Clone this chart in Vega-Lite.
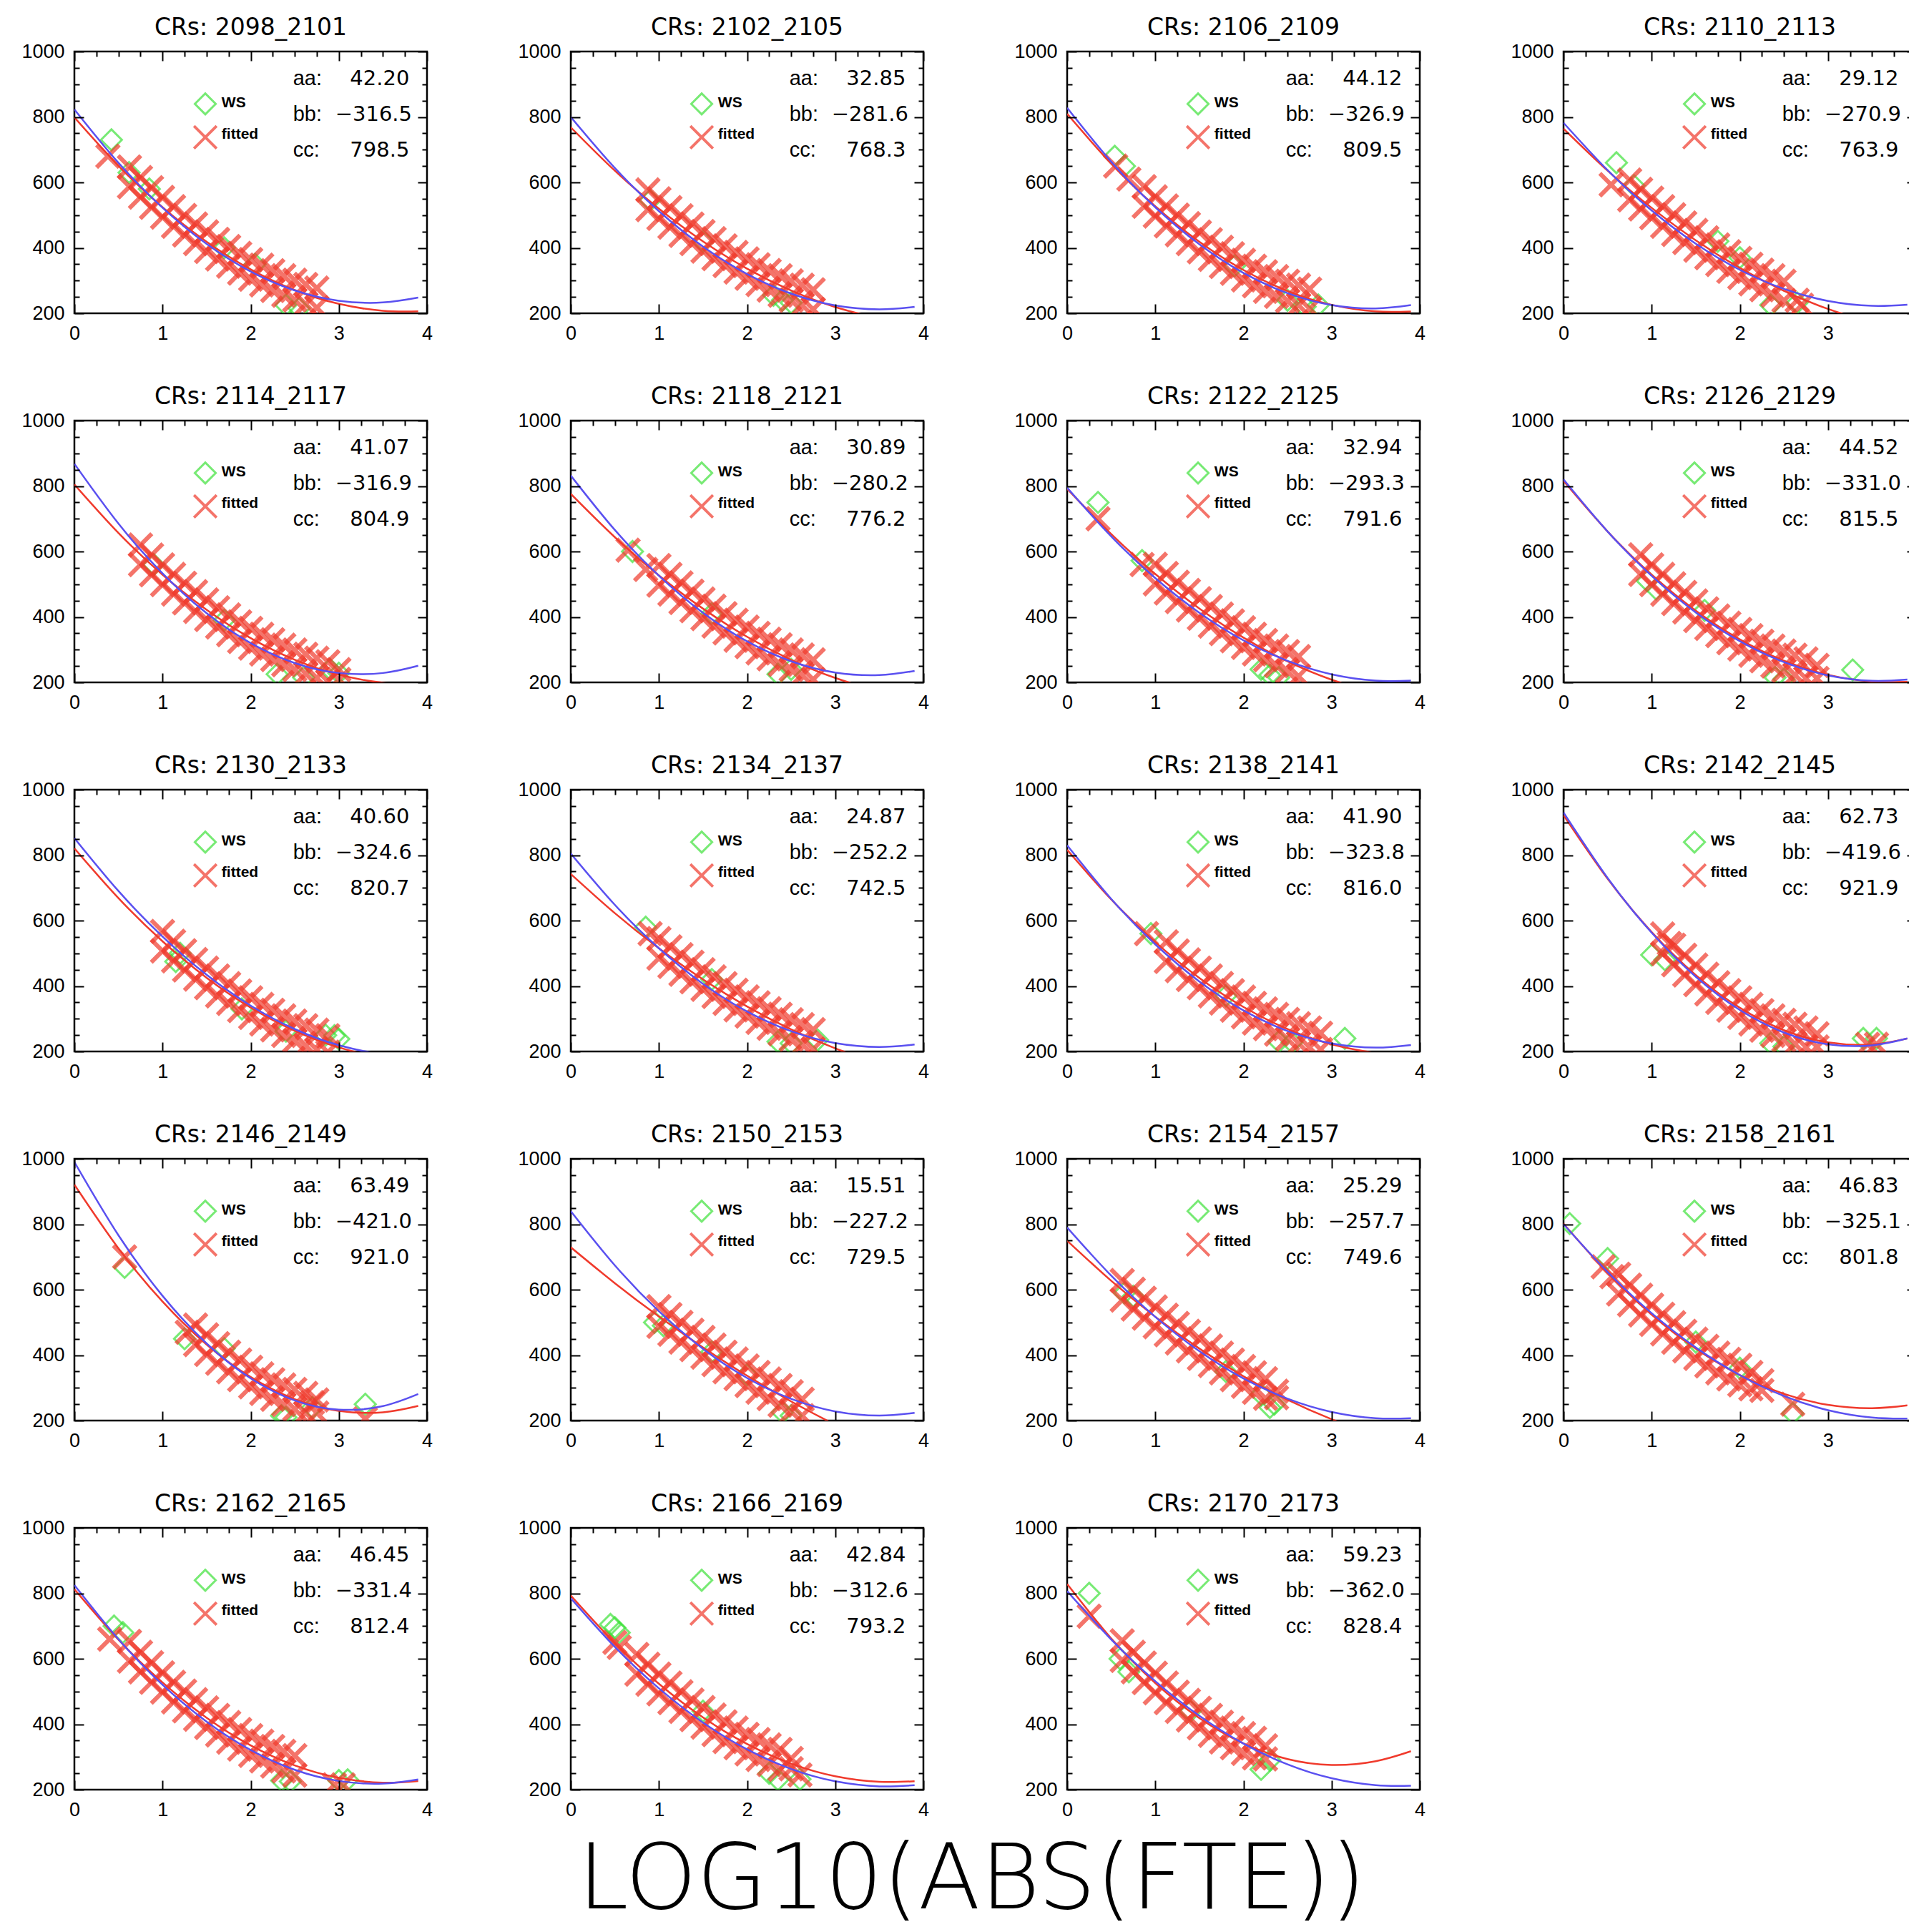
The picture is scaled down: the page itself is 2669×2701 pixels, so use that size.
{
"$schema":"https://vega.github.io/schema/vega-lite/v6.json",
"padding":{"left":5,"top":21,"right":0,"bottom":0},
"background":"white",
"title":{"text":"LOG10(ABS(FTE))","orient":"bottom","anchor":"middle","font":"DejaVu Sans","fontWeight":200,"fontSize":127,"color":"black","offset":24,"dx":12},
"data":{"values":[
{"p":"CRs: 2098_2101","aa":42.2,"bb":-316.5,"cc":798.5},
{"p":"CRs: 2098_2101","t":"r","x":0,"y":798.5},{"p":"CRs: 2098_2101","t":"r","x":0.5,"y":650.8},{"p":"CRs: 2098_2101","t":"r","x":1,"y":524.2},{"p":"CRs: 2098_2101","t":"r","x":1.5,"y":418.7},{"p":"CRs: 2098_2101","t":"r","x":2,"y":334.3},{"p":"CRs: 2098_2101","t":"r","x":2.5,"y":271},{"p":"CRs: 2098_2101","t":"r","x":3,"y":228.8},{"p":"CRs: 2098_2101","t":"r","x":3.5,"y":207.7},{"p":"CRs: 2098_2101","t":"r","x":3.9,"y":206},
{"p":"CRs: 2098_2101","t":"b","x":0,"y":823},{"p":"CRs: 2098_2101","t":"b","x":0.5,"y":659.7},{"p":"CRs: 2098_2101","t":"b","x":1,"y":522.7},{"p":"CRs: 2098_2101","t":"b","x":1.5,"y":412.1},{"p":"CRs: 2098_2101","t":"b","x":2,"y":327.8},{"p":"CRs: 2098_2101","t":"b","x":2.5,"y":269.9},{"p":"CRs: 2098_2101","t":"b","x":3,"y":238.3},{"p":"CRs: 2098_2101","t":"b","x":3.5,"y":233.1},{"p":"CRs: 2098_2101","t":"b","x":3.9,"y":247.9},
{"p":"CRs: 2098_2101","t":"x","x":0.38,"y":680},{"p":"CRs: 2098_2101","t":"x","x":0.625,"y":647},{"p":"CRs: 2098_2101","t":"x","x":0.75,"y":555},{"p":"CRs: 2098_2101","t":"x","x":0.875,"y":584},{"p":"CRs: 2098_2101","t":"x","x":1,"y":494},{"p":"CRs: 2098_2101","t":"x","x":1.125,"y":526},{"p":"CRs: 2098_2101","t":"x","x":1.25,"y":439},{"p":"CRs: 2098_2101","t":"x","x":1.375,"y":473},{"p":"CRs: 2098_2101","t":"x","x":1.5,"y":389},{"p":"CRs: 2098_2101","t":"x","x":1.625,"y":426},{"p":"CRs: 2098_2101","t":"x","x":1.75,"y":344},{"p":"CRs: 2098_2101","t":"x","x":1.875,"y":383},{"p":"CRs: 2098_2101","t":"x","x":2,"y":304},{"p":"CRs: 2098_2101","t":"x","x":2.125,"y":347},{"p":"CRs: 2098_2101","t":"x","x":2.25,"y":270},{"p":"CRs: 2098_2101","t":"x","x":2.375,"y":315},{"p":"CRs: 2098_2101","t":"x","x":2.5,"y":241},{"p":"CRs: 2098_2101","t":"x","x":2.625,"y":288},{"p":"CRs: 2098_2101","t":"x","x":2.75,"y":217},
{"p":"CRs: 2098_2101","t":"x","x":0.625,"y":587},{"p":"CRs: 2098_2101","t":"x","x":0.75,"y":615},{"p":"CRs: 2098_2101","t":"x","x":0.875,"y":524},{"p":"CRs: 2098_2101","t":"x","x":1,"y":554},{"p":"CRs: 2098_2101","t":"x","x":1.125,"y":466},{"p":"CRs: 2098_2101","t":"x","x":1.25,"y":499},{"p":"CRs: 2098_2101","t":"x","x":1.375,"y":413},{"p":"CRs: 2098_2101","t":"x","x":1.5,"y":449},{"p":"CRs: 2098_2101","t":"x","x":1.625,"y":366},{"p":"CRs: 2098_2101","t":"x","x":1.75,"y":404},{"p":"CRs: 2098_2101","t":"x","x":1.875,"y":323},{"p":"CRs: 2098_2101","t":"x","x":2,"y":364},{"p":"CRs: 2098_2101","t":"x","x":2.125,"y":287},{"p":"CRs: 2098_2101","t":"x","x":2.25,"y":330},{"p":"CRs: 2098_2101","t":"x","x":2.375,"y":255},{"p":"CRs: 2098_2101","t":"x","x":2.5,"y":301},{"p":"CRs: 2098_2101","t":"x","x":2.625,"y":228},{"p":"CRs: 2098_2101","t":"x","x":2.75,"y":277},
{"p":"CRs: 2098_2101","t":"g","x":0.42,"y":730},{"p":"CRs: 2098_2101","t":"g","x":0.62,"y":630},{"p":"CRs: 2098_2101","t":"g","x":0.85,"y":580},{"p":"CRs: 2098_2101","t":"g","x":1.7,"y":400},{"p":"CRs: 2098_2101","t":"g","x":2.05,"y":350},{"p":"CRs: 2098_2101","t":"g","x":2.4,"y":225},{"p":"CRs: 2098_2101","t":"g","x":2.55,"y":215},
{"p":"CRs: 2102_2105","aa":32.85,"bb":-281.6,"cc":768.3},
{"p":"CRs: 2102_2105","t":"r","x":0,"y":768.3},{"p":"CRs: 2102_2105","t":"r","x":0.5,"y":635.7},{"p":"CRs: 2102_2105","t":"r","x":1,"y":519.6},{"p":"CRs: 2102_2105","t":"r","x":1.5,"y":419.8},{"p":"CRs: 2102_2105","t":"r","x":2,"y":336.5},{"p":"CRs: 2102_2105","t":"r","x":2.5,"y":269.6},{"p":"CRs: 2102_2105","t":"r","x":3,"y":219.2},{"p":"CRs: 2102_2105","t":"r","x":3.5,"y":185.1},{"p":"CRs: 2102_2105","t":"r","x":3.9,"y":169.7},
{"p":"CRs: 2102_2105","t":"b","x":0,"y":800},{"p":"CRs: 2102_2105","t":"b","x":0.5,"y":644},{"p":"CRs: 2102_2105","t":"b","x":1,"y":512},{"p":"CRs: 2102_2105","t":"b","x":1.5,"y":404},{"p":"CRs: 2102_2105","t":"b","x":2,"y":320},{"p":"CRs: 2102_2105","t":"b","x":2.5,"y":260},{"p":"CRs: 2102_2105","t":"b","x":3,"y":224},{"p":"CRs: 2102_2105","t":"b","x":3.5,"y":212},{"p":"CRs: 2102_2105","t":"b","x":3.9,"y":219.7},
{"p":"CRs: 2102_2105","t":"x","x":0.875,"y":577},{"p":"CRs: 2102_2105","t":"x","x":1,"y":490},{"p":"CRs: 2102_2105","t":"x","x":1.125,"y":523},{"p":"CRs: 2102_2105","t":"x","x":1.25,"y":438},{"p":"CRs: 2102_2105","t":"x","x":1.375,"y":473},{"p":"CRs: 2102_2105","t":"x","x":1.5,"y":390},{"p":"CRs: 2102_2105","t":"x","x":1.625,"y":428},{"p":"CRs: 2102_2105","t":"x","x":1.75,"y":346},{"p":"CRs: 2102_2105","t":"x","x":1.875,"y":386},{"p":"CRs: 2102_2105","t":"x","x":2,"y":307},{"p":"CRs: 2102_2105","t":"x","x":2.125,"y":348},{"p":"CRs: 2102_2105","t":"x","x":2.25,"y":271},{"p":"CRs: 2102_2105","t":"x","x":2.375,"y":315},{"p":"CRs: 2102_2105","t":"x","x":2.5,"y":240},{"p":"CRs: 2102_2105","t":"x","x":2.625,"y":286},{"p":"CRs: 2102_2105","t":"x","x":2.75,"y":212},
{"p":"CRs: 2102_2105","t":"x","x":0.875,"y":517},{"p":"CRs: 2102_2105","t":"x","x":1,"y":550},{"p":"CRs: 2102_2105","t":"x","x":1.125,"y":463},{"p":"CRs: 2102_2105","t":"x","x":1.25,"y":498},{"p":"CRs: 2102_2105","t":"x","x":1.375,"y":413},{"p":"CRs: 2102_2105","t":"x","x":1.5,"y":450},{"p":"CRs: 2102_2105","t":"x","x":1.625,"y":367},{"p":"CRs: 2102_2105","t":"x","x":1.75,"y":406},{"p":"CRs: 2102_2105","t":"x","x":1.875,"y":326},{"p":"CRs: 2102_2105","t":"x","x":2,"y":366},{"p":"CRs: 2102_2105","t":"x","x":2.125,"y":288},{"p":"CRs: 2102_2105","t":"x","x":2.25,"y":331},{"p":"CRs: 2102_2105","t":"x","x":2.375,"y":255},{"p":"CRs: 2102_2105","t":"x","x":2.5,"y":299},{"p":"CRs: 2102_2105","t":"x","x":2.625,"y":225},{"p":"CRs: 2102_2105","t":"x","x":2.75,"y":272},
{"p":"CRs: 2102_2105","t":"g","x":0.9,"y":545},{"p":"CRs: 2102_2105","t":"g","x":1.5,"y":420},{"p":"CRs: 2102_2105","t":"g","x":2.3,"y":255},{"p":"CRs: 2102_2105","t":"g","x":2.4,"y":240},{"p":"CRs: 2102_2105","t":"g","x":2.5,"y":232},
{"p":"CRs: 2106_2109","aa":44.12,"bb":-326.9,"cc":809.5},
{"p":"CRs: 2106_2109","t":"r","x":0,"y":809.5},{"p":"CRs: 2106_2109","t":"r","x":0.5,"y":657.1},{"p":"CRs: 2106_2109","t":"r","x":1,"y":526.7},{"p":"CRs: 2106_2109","t":"r","x":1.5,"y":418.4},{"p":"CRs: 2106_2109","t":"r","x":2,"y":332.2},{"p":"CRs: 2106_2109","t":"r","x":2.5,"y":268},{"p":"CRs: 2106_2109","t":"r","x":3,"y":225.9},{"p":"CRs: 2106_2109","t":"r","x":3.5,"y":205.8},{"p":"CRs: 2106_2109","t":"r","x":3.9,"y":205.7},
{"p":"CRs: 2106_2109","t":"b","x":0,"y":828},{"p":"CRs: 2106_2109","t":"b","x":0.5,"y":663.2},{"p":"CRs: 2106_2109","t":"b","x":1,"y":524.1},{"p":"CRs: 2106_2109","t":"b","x":1.5,"y":410.8},{"p":"CRs: 2106_2109","t":"b","x":2,"y":323.2},{"p":"CRs: 2106_2109","t":"b","x":2.5,"y":261.4},{"p":"CRs: 2106_2109","t":"b","x":3,"y":225.3},{"p":"CRs: 2106_2109","t":"b","x":3.5,"y":215},{"p":"CRs: 2106_2109","t":"b","x":3.9,"y":225.2},
{"p":"CRs: 2106_2109","t":"x","x":0.55,"y":650},{"p":"CRs: 2106_2109","t":"x","x":0.7,"y":610},{"p":"CRs: 2106_2109","t":"x","x":0.875,"y":587},{"p":"CRs: 2106_2109","t":"x","x":1,"y":497},{"p":"CRs: 2106_2109","t":"x","x":1.125,"y":528},{"p":"CRs: 2106_2109","t":"x","x":1.25,"y":440},{"p":"CRs: 2106_2109","t":"x","x":1.375,"y":474},{"p":"CRs: 2106_2109","t":"x","x":1.5,"y":388},{"p":"CRs: 2106_2109","t":"x","x":1.625,"y":425},{"p":"CRs: 2106_2109","t":"x","x":1.75,"y":343},{"p":"CRs: 2106_2109","t":"x","x":1.875,"y":382},{"p":"CRs: 2106_2109","t":"x","x":2,"y":302},{"p":"CRs: 2106_2109","t":"x","x":2.125,"y":344},{"p":"CRs: 2106_2109","t":"x","x":2.25,"y":267},{"p":"CRs: 2106_2109","t":"x","x":2.375,"y":312},{"p":"CRs: 2106_2109","t":"x","x":2.5,"y":238},{"p":"CRs: 2106_2109","t":"x","x":2.625,"y":286},{"p":"CRs: 2106_2109","t":"x","x":2.75,"y":214},
{"p":"CRs: 2106_2109","t":"x","x":0.875,"y":527},{"p":"CRs: 2106_2109","t":"x","x":1,"y":556},{"p":"CRs: 2106_2109","t":"x","x":1.125,"y":467},{"p":"CRs: 2106_2109","t":"x","x":1.25,"y":500},{"p":"CRs: 2106_2109","t":"x","x":1.375,"y":413},{"p":"CRs: 2106_2109","t":"x","x":1.5,"y":448},{"p":"CRs: 2106_2109","t":"x","x":1.625,"y":365},{"p":"CRs: 2106_2109","t":"x","x":1.75,"y":402},{"p":"CRs: 2106_2109","t":"x","x":1.875,"y":322},{"p":"CRs: 2106_2109","t":"x","x":2,"y":362},{"p":"CRs: 2106_2109","t":"x","x":2.125,"y":284},{"p":"CRs: 2106_2109","t":"x","x":2.25,"y":327},{"p":"CRs: 2106_2109","t":"x","x":2.375,"y":252},{"p":"CRs: 2106_2109","t":"x","x":2.5,"y":298},{"p":"CRs: 2106_2109","t":"x","x":2.625,"y":225},{"p":"CRs: 2106_2109","t":"x","x":2.75,"y":274},
{"p":"CRs: 2106_2109","t":"g","x":0.54,"y":680},{"p":"CRs: 2106_2109","t":"g","x":0.65,"y":650},{"p":"CRs: 2106_2109","t":"g","x":1.9,"y":345},{"p":"CRs: 2106_2109","t":"g","x":2.5,"y":240},{"p":"CRs: 2106_2109","t":"g","x":2.7,"y":220},{"p":"CRs: 2106_2109","t":"g","x":2.85,"y":225},
{"p":"CRs: 2110_2113","aa":29.12,"bb":-270.9,"cc":763.9},
{"p":"CRs: 2110_2113","t":"r","x":0,"y":763.9},{"p":"CRs: 2110_2113","t":"r","x":0.5,"y":635.7},{"p":"CRs: 2110_2113","t":"r","x":1,"y":522.1},{"p":"CRs: 2110_2113","t":"r","x":1.5,"y":423.1},{"p":"CRs: 2110_2113","t":"r","x":2,"y":338.6},{"p":"CRs: 2110_2113","t":"r","x":2.5,"y":268.7},{"p":"CRs: 2110_2113","t":"r","x":3,"y":213.3},{"p":"CRs: 2110_2113","t":"r","x":3.5,"y":172.5},{"p":"CRs: 2110_2113","t":"r","x":3.9,"y":150.3},
{"p":"CRs: 2110_2113","t":"b","x":0,"y":782},{"p":"CRs: 2110_2113","t":"b","x":0.5,"y":637.3},{"p":"CRs: 2110_2113","t":"b","x":1,"y":514.2},{"p":"CRs: 2110_2113","t":"b","x":1.5,"y":412.7},{"p":"CRs: 2110_2113","t":"b","x":2,"y":332.8},{"p":"CRs: 2110_2113","t":"b","x":2.5,"y":274.5},{"p":"CRs: 2110_2113","t":"b","x":3,"y":237.8},{"p":"CRs: 2110_2113","t":"b","x":3.5,"y":222.7},{"p":"CRs: 2110_2113","t":"b","x":3.9,"y":226.2},
{"p":"CRs: 2110_2113","t":"x","x":0.54,"y":593},{"p":"CRs: 2110_2113","t":"x","x":0.75,"y":547},{"p":"CRs: 2110_2113","t":"x","x":0.875,"y":579},{"p":"CRs: 2110_2113","t":"x","x":1,"y":492},{"p":"CRs: 2110_2113","t":"x","x":1.125,"y":526},{"p":"CRs: 2110_2113","t":"x","x":1.25,"y":441},{"p":"CRs: 2110_2113","t":"x","x":1.375,"y":476},{"p":"CRs: 2110_2113","t":"x","x":1.5,"y":393},{"p":"CRs: 2110_2113","t":"x","x":1.625,"y":431},{"p":"CRs: 2110_2113","t":"x","x":1.75,"y":349},{"p":"CRs: 2110_2113","t":"x","x":1.875,"y":388},{"p":"CRs: 2110_2113","t":"x","x":2,"y":309},{"p":"CRs: 2110_2113","t":"x","x":2.125,"y":350},{"p":"CRs: 2110_2113","t":"x","x":2.25,"y":272},{"p":"CRs: 2110_2113","t":"x","x":2.375,"y":315},{"p":"CRs: 2110_2113","t":"x","x":2.5,"y":239},{"p":"CRs: 2110_2113","t":"x","x":2.65,"y":240},{"p":"CRs: 2110_2113","t":"x","x":2.7,"y":225},
{"p":"CRs: 2110_2113","t":"x","x":0.75,"y":607},{"p":"CRs: 2110_2113","t":"x","x":0.875,"y":519},{"p":"CRs: 2110_2113","t":"x","x":1,"y":552},{"p":"CRs: 2110_2113","t":"x","x":1.125,"y":466},{"p":"CRs: 2110_2113","t":"x","x":1.25,"y":501},{"p":"CRs: 2110_2113","t":"x","x":1.375,"y":416},{"p":"CRs: 2110_2113","t":"x","x":1.5,"y":453},{"p":"CRs: 2110_2113","t":"x","x":1.625,"y":370},{"p":"CRs: 2110_2113","t":"x","x":1.75,"y":409},{"p":"CRs: 2110_2113","t":"x","x":1.875,"y":328},{"p":"CRs: 2110_2113","t":"x","x":2,"y":368},{"p":"CRs: 2110_2113","t":"x","x":2.125,"y":290},{"p":"CRs: 2110_2113","t":"x","x":2.25,"y":332},{"p":"CRs: 2110_2113","t":"x","x":2.375,"y":255},{"p":"CRs: 2110_2113","t":"x","x":2.5,"y":298},
{"p":"CRs: 2110_2113","t":"g","x":0.6,"y":660},{"p":"CRs: 2110_2113","t":"g","x":0.8,"y":590},{"p":"CRs: 2110_2113","t":"g","x":1.75,"y":420},{"p":"CRs: 2110_2113","t":"g","x":2,"y":370},{"p":"CRs: 2110_2113","t":"g","x":2.35,"y":225},{"p":"CRs: 2110_2113","t":"g","x":2.65,"y":232},
{"p":"CRs: 2114_2117","aa":41.07,"bb":-316.9,"cc":804.9},
{"p":"CRs: 2114_2117","t":"r","x":0,"y":804.9},{"p":"CRs: 2114_2117","t":"r","x":0.5,"y":656.7},{"p":"CRs: 2114_2117","t":"r","x":1,"y":529.1},{"p":"CRs: 2114_2117","t":"r","x":1.5,"y":422},{"p":"CRs: 2114_2117","t":"r","x":2,"y":335.4},{"p":"CRs: 2114_2117","t":"r","x":2.5,"y":269.3},{"p":"CRs: 2114_2117","t":"r","x":3,"y":223.8},{"p":"CRs: 2114_2117","t":"r","x":3.5,"y":198.9},{"p":"CRs: 2114_2117","t":"r","x":3.9,"y":193.7},
{"p":"CRs: 2114_2117","t":"b","x":0,"y":868},{"p":"CRs: 2114_2117","t":"b","x":0.5,"y":685.3},{"p":"CRs: 2114_2117","t":"b","x":1,"y":533.1},{"p":"CRs: 2114_2117","t":"b","x":1.5,"y":411.3},{"p":"CRs: 2114_2117","t":"b","x":2,"y":320},{"p":"CRs: 2114_2117","t":"b","x":2.5,"y":259.1},{"p":"CRs: 2114_2117","t":"b","x":3,"y":228.7},{"p":"CRs: 2114_2117","t":"b","x":3.5,"y":228.7},{"p":"CRs: 2114_2117","t":"b","x":3.9,"y":250.7},
{"p":"CRs: 2114_2117","t":"x","x":0.75,"y":620},{"p":"CRs: 2114_2117","t":"x","x":0.875,"y":529},{"p":"CRs: 2114_2117","t":"x","x":1,"y":559},{"p":"CRs: 2114_2117","t":"x","x":1.125,"y":470},{"p":"CRs: 2114_2117","t":"x","x":1.25,"y":503},{"p":"CRs: 2114_2117","t":"x","x":1.375,"y":417},{"p":"CRs: 2114_2117","t":"x","x":1.5,"y":452},{"p":"CRs: 2114_2117","t":"x","x":1.625,"y":369},{"p":"CRs: 2114_2117","t":"x","x":1.75,"y":406},{"p":"CRs: 2114_2117","t":"x","x":1.875,"y":325},{"p":"CRs: 2114_2117","t":"x","x":2,"y":365},{"p":"CRs: 2114_2117","t":"x","x":2.125,"y":287},{"p":"CRs: 2114_2117","t":"x","x":2.25,"y":330},{"p":"CRs: 2114_2117","t":"x","x":2.375,"y":254},{"p":"CRs: 2114_2117","t":"x","x":2.5,"y":299},{"p":"CRs: 2114_2117","t":"x","x":2.625,"y":226},{"p":"CRs: 2114_2117","t":"x","x":2.75,"y":274},{"p":"CRs: 2114_2117","t":"x","x":2.875,"y":203},{"p":"CRs: 2114_2117","t":"x","x":3,"y":239},
{"p":"CRs: 2114_2117","t":"x","x":0.75,"y":560},{"p":"CRs: 2114_2117","t":"x","x":0.875,"y":589},{"p":"CRs: 2114_2117","t":"x","x":1,"y":499},{"p":"CRs: 2114_2117","t":"x","x":1.125,"y":530},{"p":"CRs: 2114_2117","t":"x","x":1.25,"y":443},{"p":"CRs: 2114_2117","t":"x","x":1.375,"y":477},{"p":"CRs: 2114_2117","t":"x","x":1.5,"y":392},{"p":"CRs: 2114_2117","t":"x","x":1.625,"y":428},{"p":"CRs: 2114_2117","t":"x","x":1.75,"y":346},{"p":"CRs: 2114_2117","t":"x","x":1.875,"y":385},{"p":"CRs: 2114_2117","t":"x","x":2,"y":305},{"p":"CRs: 2114_2117","t":"x","x":2.125,"y":347},{"p":"CRs: 2114_2117","t":"x","x":2.25,"y":270},{"p":"CRs: 2114_2117","t":"x","x":2.375,"y":314},{"p":"CRs: 2114_2117","t":"x","x":2.5,"y":239},{"p":"CRs: 2114_2117","t":"x","x":2.625,"y":286},{"p":"CRs: 2114_2117","t":"x","x":2.75,"y":214},{"p":"CRs: 2114_2117","t":"x","x":2.875,"y":263},{"p":"CRs: 2114_2117","t":"x","x":3,"y":209},
{"p":"CRs: 2114_2117","t":"g","x":0.9,"y":560},{"p":"CRs: 2114_2117","t":"g","x":1.7,"y":390},{"p":"CRs: 2114_2117","t":"g","x":2.3,"y":225},{"p":"CRs: 2114_2117","t":"g","x":2.6,"y":215},{"p":"CRs: 2114_2117","t":"g","x":2.9,"y":240},{"p":"CRs: 2114_2117","t":"g","x":3,"y":228},
{"p":"CRs: 2118_2121","aa":30.89,"bb":-280.2,"cc":776.2},
{"p":"CRs: 2118_2121","t":"r","x":0,"y":776.2},{"p":"CRs: 2118_2121","t":"r","x":0.5,"y":643.8},{"p":"CRs: 2118_2121","t":"r","x":1,"y":526.9},{"p":"CRs: 2118_2121","t":"r","x":1.5,"y":425.4},{"p":"CRs: 2118_2121","t":"r","x":2,"y":339.4},{"p":"CRs: 2118_2121","t":"r","x":2.5,"y":268.8},{"p":"CRs: 2118_2121","t":"r","x":3,"y":213.6},{"p":"CRs: 2118_2121","t":"r","x":3.5,"y":173.9},{"p":"CRs: 2118_2121","t":"r","x":3.9,"y":153.2},
{"p":"CRs: 2118_2121","t":"b","x":0,"y":832},{"p":"CRs: 2118_2121","t":"b","x":0.5,"y":665.7},{"p":"CRs: 2118_2121","t":"b","x":1,"y":525.8},{"p":"CRs: 2118_2121","t":"b","x":1.5,"y":412.3},{"p":"CRs: 2118_2121","t":"b","x":2,"y":325.2},{"p":"CRs: 2118_2121","t":"b","x":2.5,"y":264.5},{"p":"CRs: 2118_2121","t":"b","x":3,"y":230.2},{"p":"CRs: 2118_2121","t":"b","x":3.5,"y":222.3},{"p":"CRs: 2118_2121","t":"b","x":3.9,"y":235},
{"p":"CRs: 2118_2121","t":"x","x":0.65,"y":604},{"p":"CRs: 2118_2121","t":"x","x":0.85,"y":545},{"p":"CRs: 2118_2121","t":"x","x":1,"y":497},{"p":"CRs: 2118_2121","t":"x","x":1.125,"y":530},{"p":"CRs: 2118_2121","t":"x","x":1.25,"y":444},{"p":"CRs: 2118_2121","t":"x","x":1.375,"y":479},{"p":"CRs: 2118_2121","t":"x","x":1.5,"y":395},{"p":"CRs: 2118_2121","t":"x","x":1.625,"y":433},{"p":"CRs: 2118_2121","t":"x","x":1.75,"y":351},{"p":"CRs: 2118_2121","t":"x","x":1.875,"y":390},{"p":"CRs: 2118_2121","t":"x","x":2,"y":309},{"p":"CRs: 2118_2121","t":"x","x":2.125,"y":350},{"p":"CRs: 2118_2121","t":"x","x":2.25,"y":272},{"p":"CRs: 2118_2121","t":"x","x":2.375,"y":315},{"p":"CRs: 2118_2121","t":"x","x":2.5,"y":239},{"p":"CRs: 2118_2121","t":"x","x":2.625,"y":284},{"p":"CRs: 2118_2121","t":"x","x":2.75,"y":209},
{"p":"CRs: 2118_2121","t":"x","x":1,"y":557},{"p":"CRs: 2118_2121","t":"x","x":1.125,"y":470},{"p":"CRs: 2118_2121","t":"x","x":1.25,"y":504},{"p":"CRs: 2118_2121","t":"x","x":1.375,"y":419},{"p":"CRs: 2118_2121","t":"x","x":1.5,"y":455},{"p":"CRs: 2118_2121","t":"x","x":1.625,"y":372},{"p":"CRs: 2118_2121","t":"x","x":1.75,"y":410},{"p":"CRs: 2118_2121","t":"x","x":1.875,"y":329},{"p":"CRs: 2118_2121","t":"x","x":2,"y":369},{"p":"CRs: 2118_2121","t":"x","x":2.125,"y":290},{"p":"CRs: 2118_2121","t":"x","x":2.25,"y":332},{"p":"CRs: 2118_2121","t":"x","x":2.375,"y":255},{"p":"CRs: 2118_2121","t":"x","x":2.5,"y":299},{"p":"CRs: 2118_2121","t":"x","x":2.625,"y":223},{"p":"CRs: 2118_2121","t":"x","x":2.75,"y":269},
{"p":"CRs: 2118_2121","t":"g","x":0.7,"y":600},{"p":"CRs: 2118_2121","t":"g","x":1.6,"y":410},{"p":"CRs: 2118_2121","t":"g","x":2.35,"y":225},{"p":"CRs: 2118_2121","t":"g","x":2.5,"y":240},
{"p":"CRs: 2122_2125","aa":32.94,"bb":-293.3,"cc":791.6},
{"p":"CRs: 2122_2125","t":"r","x":0,"y":791.6},{"p":"CRs: 2122_2125","t":"r","x":0.5,"y":653.2},{"p":"CRs: 2122_2125","t":"r","x":1,"y":531.2},{"p":"CRs: 2122_2125","t":"r","x":1.5,"y":425.8},{"p":"CRs: 2122_2125","t":"r","x":2,"y":336.8},{"p":"CRs: 2122_2125","t":"r","x":2.5,"y":264.2},{"p":"CRs: 2122_2125","t":"r","x":3,"y":208.2},{"p":"CRs: 2122_2125","t":"r","x":3.5,"y":168.6},{"p":"CRs: 2122_2125","t":"r","x":3.9,"y":148.7},
{"p":"CRs: 2122_2125","t":"b","x":0,"y":795},{"p":"CRs: 2122_2125","t":"b","x":0.5,"y":646},{"p":"CRs: 2122_2125","t":"b","x":1,"y":518.5},{"p":"CRs: 2122_2125","t":"b","x":1.5,"y":412.7},{"p":"CRs: 2122_2125","t":"b","x":2,"y":328.4},{"p":"CRs: 2122_2125","t":"b","x":2.5,"y":265.8},{"p":"CRs: 2122_2125","t":"b","x":3,"y":224.7},{"p":"CRs: 2122_2125","t":"b","x":3.5,"y":205.3},{"p":"CRs: 2122_2125","t":"b","x":3.9,"y":205.3},
{"p":"CRs: 2122_2125","t":"x","x":0.35,"y":700},{"p":"CRs: 2122_2125","t":"x","x":0.85,"y":560},{"p":"CRs: 2122_2125","t":"x","x":1,"y":501},{"p":"CRs: 2122_2125","t":"x","x":1.125,"y":533},{"p":"CRs: 2122_2125","t":"x","x":1.25,"y":447},{"p":"CRs: 2122_2125","t":"x","x":1.375,"y":481},{"p":"CRs: 2122_2125","t":"x","x":1.5,"y":396},{"p":"CRs: 2122_2125","t":"x","x":1.625,"y":432},{"p":"CRs: 2122_2125","t":"x","x":1.75,"y":349},{"p":"CRs: 2122_2125","t":"x","x":1.875,"y":388},{"p":"CRs: 2122_2125","t":"x","x":2,"y":307},{"p":"CRs: 2122_2125","t":"x","x":2.125,"y":347},{"p":"CRs: 2122_2125","t":"x","x":2.25,"y":269},{"p":"CRs: 2122_2125","t":"x","x":2.375,"y":311},{"p":"CRs: 2122_2125","t":"x","x":2.5,"y":234},{"p":"CRs: 2122_2125","t":"x","x":2.625,"y":279},
{"p":"CRs: 2122_2125","t":"x","x":1,"y":561},{"p":"CRs: 2122_2125","t":"x","x":1.125,"y":473},{"p":"CRs: 2122_2125","t":"x","x":1.25,"y":506},{"p":"CRs: 2122_2125","t":"x","x":1.375,"y":421},{"p":"CRs: 2122_2125","t":"x","x":1.5,"y":456},{"p":"CRs: 2122_2125","t":"x","x":1.625,"y":372},{"p":"CRs: 2122_2125","t":"x","x":1.75,"y":409},{"p":"CRs: 2122_2125","t":"x","x":1.875,"y":327},{"p":"CRs: 2122_2125","t":"x","x":2,"y":367},{"p":"CRs: 2122_2125","t":"x","x":2.125,"y":287},{"p":"CRs: 2122_2125","t":"x","x":2.25,"y":328},{"p":"CRs: 2122_2125","t":"x","x":2.375,"y":251},{"p":"CRs: 2122_2125","t":"x","x":2.5,"y":294},{"p":"CRs: 2122_2125","t":"x","x":2.625,"y":219},
{"p":"CRs: 2122_2125","t":"g","x":0.35,"y":750},{"p":"CRs: 2122_2125","t":"g","x":0.85,"y":572},{"p":"CRs: 2122_2125","t":"g","x":2.2,"y":240},{"p":"CRs: 2122_2125","t":"g","x":2.3,"y":222},{"p":"CRs: 2122_2125","t":"g","x":2.4,"y":215},
{"p":"CRs: 2126_2129","aa":44.52,"bb":-331.0,"cc":815.5},
{"p":"CRs: 2126_2129","t":"r","x":0,"y":815.5},{"p":"CRs: 2126_2129","t":"r","x":0.5,"y":661.1},{"p":"CRs: 2126_2129","t":"r","x":1,"y":529},{"p":"CRs: 2126_2129","t":"r","x":1.5,"y":419.2},{"p":"CRs: 2126_2129","t":"r","x":2,"y":331.6},{"p":"CRs: 2126_2129","t":"r","x":2.5,"y":266.3},{"p":"CRs: 2126_2129","t":"r","x":3,"y":223.2},{"p":"CRs: 2126_2129","t":"r","x":3.5,"y":202.4},{"p":"CRs: 2126_2129","t":"r","x":3.9,"y":201.8},
{"p":"CRs: 2126_2129","t":"b","x":0,"y":820},{"p":"CRs: 2126_2129","t":"b","x":0.5,"y":660.9},{"p":"CRs: 2126_2129","t":"b","x":1,"y":525.5},{"p":"CRs: 2126_2129","t":"b","x":1.5,"y":413.9},{"p":"CRs: 2126_2129","t":"b","x":2,"y":326},{"p":"CRs: 2126_2129","t":"b","x":2.5,"y":261.9},{"p":"CRs: 2126_2129","t":"b","x":3,"y":221.5},{"p":"CRs: 2126_2129","t":"b","x":3.5,"y":204.9},{"p":"CRs: 2126_2129","t":"b","x":3.9,"y":208.7},
{"p":"CRs: 2126_2129","t":"x","x":0.875,"y":590},{"p":"CRs: 2126_2129","t":"x","x":1,"y":499},{"p":"CRs: 2126_2129","t":"x","x":1.125,"y":530},{"p":"CRs: 2126_2129","t":"x","x":1.25,"y":441},{"p":"CRs: 2126_2129","t":"x","x":1.375,"y":475},{"p":"CRs: 2126_2129","t":"x","x":1.5,"y":389},{"p":"CRs: 2126_2129","t":"x","x":1.625,"y":425},{"p":"CRs: 2126_2129","t":"x","x":1.75,"y":343},{"p":"CRs: 2126_2129","t":"x","x":1.875,"y":381},{"p":"CRs: 2126_2129","t":"x","x":2,"y":302},{"p":"CRs: 2126_2129","t":"x","x":2.125,"y":343},{"p":"CRs: 2126_2129","t":"x","x":2.25,"y":266},{"p":"CRs: 2126_2129","t":"x","x":2.375,"y":311},{"p":"CRs: 2126_2129","t":"x","x":2.5,"y":236},{"p":"CRs: 2126_2129","t":"x","x":2.625,"y":283},{"p":"CRs: 2126_2129","t":"x","x":2.75,"y":212},{"p":"CRs: 2126_2129","t":"x","x":2.875,"y":252},
{"p":"CRs: 2126_2129","t":"x","x":0.875,"y":530},{"p":"CRs: 2126_2129","t":"x","x":1,"y":559},{"p":"CRs: 2126_2129","t":"x","x":1.125,"y":469},{"p":"CRs: 2126_2129","t":"x","x":1.25,"y":501},{"p":"CRs: 2126_2129","t":"x","x":1.375,"y":415},{"p":"CRs: 2126_2129","t":"x","x":1.5,"y":449},{"p":"CRs: 2126_2129","t":"x","x":1.625,"y":365},{"p":"CRs: 2126_2129","t":"x","x":1.75,"y":403},{"p":"CRs: 2126_2129","t":"x","x":1.875,"y":321},{"p":"CRs: 2126_2129","t":"x","x":2,"y":362},{"p":"CRs: 2126_2129","t":"x","x":2.125,"y":283},{"p":"CRs: 2126_2129","t":"x","x":2.25,"y":326},{"p":"CRs: 2126_2129","t":"x","x":2.375,"y":250},{"p":"CRs: 2126_2129","t":"x","x":2.5,"y":296},{"p":"CRs: 2126_2129","t":"x","x":2.625,"y":223},{"p":"CRs: 2126_2129","t":"x","x":2.75,"y":272},{"p":"CRs: 2126_2129","t":"x","x":2.875,"y":212},
{"p":"CRs: 2126_2129","t":"g","x":0.95,"y":510},{"p":"CRs: 2126_2129","t":"g","x":1.05,"y":485},{"p":"CRs: 2126_2129","t":"g","x":1.6,"y":420},{"p":"CRs: 2126_2129","t":"g","x":2.4,"y":215},{"p":"CRs: 2126_2129","t":"g","x":2.5,"y":210},{"p":"CRs: 2126_2129","t":"g","x":3.28,"y":238},
{"p":"CRs: 2130_2133","aa":40.6,"bb":-324.6,"cc":820.7},
{"p":"CRs: 2130_2133","t":"r","x":0,"y":820.7},{"p":"CRs: 2130_2133","t":"r","x":0.5,"y":668.6},{"p":"CRs: 2130_2133","t":"r","x":1,"y":536.7},{"p":"CRs: 2130_2133","t":"r","x":1.5,"y":425.2},{"p":"CRs: 2130_2133","t":"r","x":2,"y":333.9},{"p":"CRs: 2130_2133","t":"r","x":2.5,"y":263},{"p":"CRs: 2130_2133","t":"r","x":3,"y":212.3},{"p":"CRs: 2130_2133","t":"r","x":3.5,"y":181.9},{"p":"CRs: 2130_2133","t":"r","x":3.9,"y":172.3},
{"p":"CRs: 2130_2133","t":"b","x":0,"y":852},{"p":"CRs: 2130_2133","t":"b","x":0.5,"y":690.3},{"p":"CRs: 2130_2133","t":"b","x":1,"y":551},{"p":"CRs: 2130_2133","t":"b","x":1.5,"y":434.3},{"p":"CRs: 2130_2133","t":"b","x":2,"y":340},{"p":"CRs: 2130_2133","t":"b","x":2.5,"y":268.3},{"p":"CRs: 2130_2133","t":"b","x":3,"y":219},{"p":"CRs: 2130_2133","t":"b","x":3.5,"y":192.3},{"p":"CRs: 2130_2133","t":"b","x":3.9,"y":187.1},
{"p":"CRs: 2130_2133","t":"x","x":1,"y":507},{"p":"CRs: 2130_2133","t":"x","x":1.125,"y":537},{"p":"CRs: 2130_2133","t":"x","x":1.25,"y":449},{"p":"CRs: 2130_2133","t":"x","x":1.375,"y":481},{"p":"CRs: 2130_2133","t":"x","x":1.5,"y":395},{"p":"CRs: 2130_2133","t":"x","x":1.625,"y":431},{"p":"CRs: 2130_2133","t":"x","x":1.75,"y":347},{"p":"CRs: 2130_2133","t":"x","x":1.875,"y":385},{"p":"CRs: 2130_2133","t":"x","x":2,"y":304},{"p":"CRs: 2130_2133","t":"x","x":2.125,"y":344},{"p":"CRs: 2130_2133","t":"x","x":2.25,"y":266},{"p":"CRs: 2130_2133","t":"x","x":2.375,"y":309},{"p":"CRs: 2130_2133","t":"x","x":2.5,"y":233},{"p":"CRs: 2130_2133","t":"x","x":2.625,"y":279},{"p":"CRs: 2130_2133","t":"x","x":2.75,"y":205},{"p":"CRs: 2130_2133","t":"x","x":2.875,"y":248},
{"p":"CRs: 2130_2133","t":"x","x":1,"y":567},{"p":"CRs: 2130_2133","t":"x","x":1.125,"y":477},{"p":"CRs: 2130_2133","t":"x","x":1.25,"y":508},{"p":"CRs: 2130_2133","t":"x","x":1.375,"y":421},{"p":"CRs: 2130_2133","t":"x","x":1.5,"y":455},{"p":"CRs: 2130_2133","t":"x","x":1.625,"y":370},{"p":"CRs: 2130_2133","t":"x","x":1.75,"y":407},{"p":"CRs: 2130_2133","t":"x","x":1.875,"y":325},{"p":"CRs: 2130_2133","t":"x","x":2,"y":364},{"p":"CRs: 2130_2133","t":"x","x":2.125,"y":284},{"p":"CRs: 2130_2133","t":"x","x":2.25,"y":326},{"p":"CRs: 2130_2133","t":"x","x":2.375,"y":249},{"p":"CRs: 2130_2133","t":"x","x":2.5,"y":293},{"p":"CRs: 2130_2133","t":"x","x":2.625,"y":218},{"p":"CRs: 2130_2133","t":"x","x":2.75,"y":265},{"p":"CRs: 2130_2133","t":"x","x":2.875,"y":198},
{"p":"CRs: 2130_2133","t":"g","x":1.15,"y":475},{"p":"CRs: 2130_2133","t":"g","x":1.2,"y":500},{"p":"CRs: 2130_2133","t":"g","x":1.9,"y":330},{"p":"CRs: 2130_2133","t":"g","x":2.4,"y":262},{"p":"CRs: 2130_2133","t":"g","x":2.85,"y":250},{"p":"CRs: 2130_2133","t":"g","x":2.95,"y":248},{"p":"CRs: 2130_2133","t":"g","x":3,"y":238},
{"p":"CRs: 2134_2137","aa":24.87,"bb":-252.2,"cc":742.5},
{"p":"CRs: 2134_2137","t":"r","x":0,"y":742.5},{"p":"CRs: 2134_2137","t":"r","x":0.5,"y":622.6},{"p":"CRs: 2134_2137","t":"r","x":1,"y":515.2},{"p":"CRs: 2134_2137","t":"r","x":1.5,"y":420.2},{"p":"CRs: 2134_2137","t":"r","x":2,"y":337.6},{"p":"CRs: 2134_2137","t":"r","x":2.5,"y":267.4},{"p":"CRs: 2134_2137","t":"r","x":3,"y":209.7},{"p":"CRs: 2134_2137","t":"r","x":3.5,"y":164.5},{"p":"CRs: 2134_2137","t":"r","x":3.9,"y":137.2},
{"p":"CRs: 2134_2137","t":"b","x":0,"y":805},{"p":"CRs: 2134_2137","t":"b","x":0.5,"y":648.1},{"p":"CRs: 2134_2137","t":"b","x":1,"y":515.3},{"p":"CRs: 2134_2137","t":"b","x":1.5,"y":406.7},{"p":"CRs: 2134_2137","t":"b","x":2,"y":322.2},{"p":"CRs: 2134_2137","t":"b","x":2.5,"y":261.9},{"p":"CRs: 2134_2137","t":"b","x":3,"y":225.7},{"p":"CRs: 2134_2137","t":"b","x":3.5,"y":213.7},{"p":"CRs: 2134_2137","t":"b","x":3.9,"y":221.4},
{"p":"CRs: 2134_2137","t":"x","x":0.9,"y":560},{"p":"CRs: 2134_2137","t":"x","x":1,"y":485},{"p":"CRs: 2134_2137","t":"x","x":1.125,"y":520},{"p":"CRs: 2134_2137","t":"x","x":1.25,"y":436},{"p":"CRs: 2134_2137","t":"x","x":1.375,"y":473},{"p":"CRs: 2134_2137","t":"x","x":1.5,"y":390},{"p":"CRs: 2134_2137","t":"x","x":1.625,"y":428},{"p":"CRs: 2134_2137","t":"x","x":1.75,"y":347},{"p":"CRs: 2134_2137","t":"x","x":1.875,"y":387},{"p":"CRs: 2134_2137","t":"x","x":2,"y":308},{"p":"CRs: 2134_2137","t":"x","x":2.125,"y":349},{"p":"CRs: 2134_2137","t":"x","x":2.25,"y":271},{"p":"CRs: 2134_2137","t":"x","x":2.375,"y":314},{"p":"CRs: 2134_2137","t":"x","x":2.5,"y":237},{"p":"CRs: 2134_2137","t":"x","x":2.625,"y":282},{"p":"CRs: 2134_2137","t":"x","x":2.75,"y":207},
{"p":"CRs: 2134_2137","t":"x","x":1,"y":545},{"p":"CRs: 2134_2137","t":"x","x":1.125,"y":460},{"p":"CRs: 2134_2137","t":"x","x":1.25,"y":496},{"p":"CRs: 2134_2137","t":"x","x":1.375,"y":413},{"p":"CRs: 2134_2137","t":"x","x":1.5,"y":450},{"p":"CRs: 2134_2137","t":"x","x":1.625,"y":368},{"p":"CRs: 2134_2137","t":"x","x":1.75,"y":407},{"p":"CRs: 2134_2137","t":"x","x":1.875,"y":327},{"p":"CRs: 2134_2137","t":"x","x":2,"y":367},{"p":"CRs: 2134_2137","t":"x","x":2.125,"y":289},{"p":"CRs: 2134_2137","t":"x","x":2.25,"y":331},{"p":"CRs: 2134_2137","t":"x","x":2.375,"y":254},{"p":"CRs: 2134_2137","t":"x","x":2.5,"y":297},{"p":"CRs: 2134_2137","t":"x","x":2.625,"y":222},{"p":"CRs: 2134_2137","t":"x","x":2.75,"y":267},
{"p":"CRs: 2134_2137","t":"g","x":0.85,"y":580},{"p":"CRs: 2134_2137","t":"g","x":1.6,"y":420},{"p":"CRs: 2134_2137","t":"g","x":2.35,"y":230},{"p":"CRs: 2134_2137","t":"g","x":2.5,"y":225},{"p":"CRs: 2134_2137","t":"g","x":2.8,"y":235},
{"p":"CRs: 2138_2141","aa":41.9,"bb":-323.8,"cc":816.0},
{"p":"CRs: 2138_2141","t":"r","x":0,"y":816},{"p":"CRs: 2138_2141","t":"r","x":0.5,"y":664.6},{"p":"CRs: 2138_2141","t":"r","x":1,"y":534.1},{"p":"CRs: 2138_2141","t":"r","x":1.5,"y":424.6},{"p":"CRs: 2138_2141","t":"r","x":2,"y":336},{"p":"CRs: 2138_2141","t":"r","x":2.5,"y":268.4},{"p":"CRs: 2138_2141","t":"r","x":3,"y":221.7},{"p":"CRs: 2138_2141","t":"r","x":3.5,"y":196},{"p":"CRs: 2138_2141","t":"r","x":3.9,"y":190.5},
{"p":"CRs: 2138_2141","t":"b","x":0,"y":830},{"p":"CRs: 2138_2141","t":"b","x":0.5,"y":666.1},{"p":"CRs: 2138_2141","t":"b","x":1,"y":527.4},{"p":"CRs: 2138_2141","t":"b","x":1.5,"y":413.9},{"p":"CRs: 2138_2141","t":"b","x":2,"y":325.6},{"p":"CRs: 2138_2141","t":"b","x":2.5,"y":262.5},{"p":"CRs: 2138_2141","t":"b","x":3,"y":224.6},{"p":"CRs: 2138_2141","t":"b","x":3.5,"y":211.9},{"p":"CRs: 2138_2141","t":"b","x":3.9,"y":219.9},
{"p":"CRs: 2138_2141","t":"x","x":0.9,"y":560},{"p":"CRs: 2138_2141","t":"x","x":1.125,"y":535},{"p":"CRs: 2138_2141","t":"x","x":1.25,"y":447},{"p":"CRs: 2138_2141","t":"x","x":1.375,"y":480},{"p":"CRs: 2138_2141","t":"x","x":1.5,"y":395},{"p":"CRs: 2138_2141","t":"x","x":1.625,"y":431},{"p":"CRs: 2138_2141","t":"x","x":1.75,"y":348},{"p":"CRs: 2138_2141","t":"x","x":1.875,"y":386},{"p":"CRs: 2138_2141","t":"x","x":2,"y":306},{"p":"CRs: 2138_2141","t":"x","x":2.125,"y":347},{"p":"CRs: 2138_2141","t":"x","x":2.25,"y":270},{"p":"CRs: 2138_2141","t":"x","x":2.375,"y":313},{"p":"CRs: 2138_2141","t":"x","x":2.5,"y":238},{"p":"CRs: 2138_2141","t":"x","x":2.625,"y":285},{"p":"CRs: 2138_2141","t":"x","x":2.75,"y":212},{"p":"CRs: 2138_2141","t":"x","x":2.875,"y":256},
{"p":"CRs: 2138_2141","t":"x","x":1.125,"y":475},{"p":"CRs: 2138_2141","t":"x","x":1.25,"y":507},{"p":"CRs: 2138_2141","t":"x","x":1.375,"y":420},{"p":"CRs: 2138_2141","t":"x","x":1.5,"y":455},{"p":"CRs: 2138_2141","t":"x","x":1.625,"y":370},{"p":"CRs: 2138_2141","t":"x","x":1.75,"y":408},{"p":"CRs: 2138_2141","t":"x","x":1.875,"y":326},{"p":"CRs: 2138_2141","t":"x","x":2,"y":366},{"p":"CRs: 2138_2141","t":"x","x":2.125,"y":287},{"p":"CRs: 2138_2141","t":"x","x":2.25,"y":330},{"p":"CRs: 2138_2141","t":"x","x":2.375,"y":253},{"p":"CRs: 2138_2141","t":"x","x":2.5,"y":298},{"p":"CRs: 2138_2141","t":"x","x":2.625,"y":225},{"p":"CRs: 2138_2141","t":"x","x":2.75,"y":272},{"p":"CRs: 2138_2141","t":"x","x":2.875,"y":206},
{"p":"CRs: 2138_2141","t":"g","x":0.95,"y":560},{"p":"CRs: 2138_2141","t":"g","x":1.8,"y":370},{"p":"CRs: 2138_2141","t":"g","x":2.4,"y":230},{"p":"CRs: 2138_2141","t":"g","x":2.55,"y":228},{"p":"CRs: 2138_2141","t":"g","x":3.15,"y":240},
{"p":"CRs: 2142_2145","aa":62.73,"bb":-419.6,"cc":921.9},
{"p":"CRs: 2142_2145","t":"r","x":0,"y":921.9},{"p":"CRs: 2142_2145","t":"r","x":0.5,"y":727.8},{"p":"CRs: 2142_2145","t":"r","x":1,"y":565},{"p":"CRs: 2142_2145","t":"r","x":1.5,"y":433.6},{"p":"CRs: 2142_2145","t":"r","x":2,"y":333.6},{"p":"CRs: 2142_2145","t":"r","x":2.5,"y":265},{"p":"CRs: 2142_2145","t":"r","x":3,"y":227.7},{"p":"CRs: 2142_2145","t":"r","x":3.5,"y":221.7},{"p":"CRs: 2142_2145","t":"r","x":3.9,"y":239.6},
{"p":"CRs: 2142_2145","t":"b","x":0,"y":930},{"p":"CRs: 2142_2145","t":"b","x":0.5,"y":730},{"p":"CRs: 2142_2145","t":"b","x":1,"y":562.8},{"p":"CRs: 2142_2145","t":"b","x":1.5,"y":428.4},{"p":"CRs: 2142_2145","t":"b","x":2,"y":326.8},{"p":"CRs: 2142_2145","t":"b","x":2.5,"y":258},{"p":"CRs: 2142_2145","t":"b","x":3,"y":222},{"p":"CRs: 2142_2145","t":"b","x":3.5,"y":218.8},{"p":"CRs: 2142_2145","t":"b","x":3.9,"y":239.9},
{"p":"CRs: 2142_2145","t":"x","x":1.125,"y":559},{"p":"CRs: 2142_2145","t":"x","x":1.2,"y":530},{"p":"CRs: 2142_2145","t":"x","x":1.25,"y":465},{"p":"CRs: 2142_2145","t":"x","x":1.375,"y":494},{"p":"CRs: 2142_2145","t":"x","x":1.5,"y":404},{"p":"CRs: 2142_2145","t":"x","x":1.625,"y":436},{"p":"CRs: 2142_2145","t":"x","x":1.75,"y":350},{"p":"CRs: 2142_2145","t":"x","x":1.875,"y":386},{"p":"CRs: 2142_2145","t":"x","x":2,"y":304},{"p":"CRs: 2142_2145","t":"x","x":2.125,"y":344},{"p":"CRs: 2142_2145","t":"x","x":2.25,"y":265},{"p":"CRs: 2142_2145","t":"x","x":2.375,"y":309},{"p":"CRs: 2142_2145","t":"x","x":2.5,"y":235},{"p":"CRs: 2142_2145","t":"x","x":2.625,"y":283},{"p":"CRs: 2142_2145","t":"x","x":2.75,"y":213},{"p":"CRs: 2142_2145","t":"x","x":2.875,"y":254},{"p":"CRs: 2142_2145","t":"x","x":3.45,"y":222},{"p":"CRs: 2142_2145","t":"x","x":3.55,"y":222},
{"p":"CRs: 2142_2145","t":"x","x":1.125,"y":499},{"p":"CRs: 2142_2145","t":"x","x":1.25,"y":525},{"p":"CRs: 2142_2145","t":"x","x":1.375,"y":434},{"p":"CRs: 2142_2145","t":"x","x":1.5,"y":464},{"p":"CRs: 2142_2145","t":"x","x":1.625,"y":376},{"p":"CRs: 2142_2145","t":"x","x":1.75,"y":410},{"p":"CRs: 2142_2145","t":"x","x":1.875,"y":326},{"p":"CRs: 2142_2145","t":"x","x":2,"y":364},{"p":"CRs: 2142_2145","t":"x","x":2.125,"y":284},{"p":"CRs: 2142_2145","t":"x","x":2.25,"y":325},{"p":"CRs: 2142_2145","t":"x","x":2.375,"y":249},{"p":"CRs: 2142_2145","t":"x","x":2.5,"y":295},{"p":"CRs: 2142_2145","t":"x","x":2.625,"y":223},{"p":"CRs: 2142_2145","t":"x","x":2.75,"y":272},{"p":"CRs: 2142_2145","t":"x","x":2.875,"y":214},
{"p":"CRs: 2142_2145","t":"g","x":1,"y":495},{"p":"CRs: 2142_2145","t":"g","x":1.15,"y":480},{"p":"CRs: 2142_2145","t":"g","x":2.35,"y":225},{"p":"CRs: 2142_2145","t":"g","x":2.5,"y":215},{"p":"CRs: 2142_2145","t":"g","x":3.4,"y":240},{"p":"CRs: 2142_2145","t":"g","x":3.55,"y":240},
{"p":"CRs: 2146_2149","aa":63.49,"bb":-421.0,"cc":921.0},
{"p":"CRs: 2146_2149","t":"r","x":0,"y":921},{"p":"CRs: 2146_2149","t":"r","x":0.5,"y":726.4},{"p":"CRs: 2146_2149","t":"r","x":1,"y":563.5},{"p":"CRs: 2146_2149","t":"r","x":1.5,"y":432.4},{"p":"CRs: 2146_2149","t":"r","x":2,"y":333},{"p":"CRs: 2146_2149","t":"r","x":2.5,"y":265.3},{"p":"CRs: 2146_2149","t":"r","x":3,"y":229.4},{"p":"CRs: 2146_2149","t":"r","x":3.5,"y":225.3},{"p":"CRs: 2146_2149","t":"r","x":3.9,"y":244.8},
{"p":"CRs: 2146_2149","t":"b","x":0,"y":990},{"p":"CRs: 2146_2149","t":"b","x":0.5,"y":766},{"p":"CRs: 2146_2149","t":"b","x":1,"y":581.2},{"p":"CRs: 2146_2149","t":"b","x":1.5,"y":435.5},{"p":"CRs: 2146_2149","t":"b","x":2,"y":329},{"p":"CRs: 2146_2149","t":"b","x":2.5,"y":261.6},{"p":"CRs: 2146_2149","t":"b","x":3,"y":233.4},{"p":"CRs: 2146_2149","t":"b","x":3.5,"y":244.3},{"p":"CRs: 2146_2149","t":"b","x":3.9,"y":281.2},
{"p":"CRs: 2146_2149","t":"x","x":0.57,"y":700},{"p":"CRs: 2146_2149","t":"x","x":1.28,"y":470},{"p":"CRs: 2146_2149","t":"x","x":1.375,"y":492},{"p":"CRs: 2146_2149","t":"x","x":1.5,"y":402},{"p":"CRs: 2146_2149","t":"x","x":1.625,"y":435},{"p":"CRs: 2146_2149","t":"x","x":1.75,"y":349},{"p":"CRs: 2146_2149","t":"x","x":1.875,"y":385},{"p":"CRs: 2146_2149","t":"x","x":2,"y":303},{"p":"CRs: 2146_2149","t":"x","x":2.125,"y":343},{"p":"CRs: 2146_2149","t":"x","x":2.25,"y":265},{"p":"CRs: 2146_2149","t":"x","x":2.375,"y":309},{"p":"CRs: 2146_2149","t":"x","x":2.5,"y":235},{"p":"CRs: 2146_2149","t":"x","x":2.625,"y":283},{"p":"CRs: 2146_2149","t":"x","x":2.7,"y":255},{"p":"CRs: 2146_2149","t":"x","x":2.75,"y":223},{"p":"CRs: 2146_2149","t":"x","x":3.3,"y":205},
{"p":"CRs: 2146_2149","t":"x","x":1.375,"y":432},{"p":"CRs: 2146_2149","t":"x","x":1.5,"y":462},{"p":"CRs: 2146_2149","t":"x","x":1.625,"y":375},{"p":"CRs: 2146_2149","t":"x","x":1.75,"y":409},{"p":"CRs: 2146_2149","t":"x","x":1.875,"y":325},{"p":"CRs: 2146_2149","t":"x","x":2,"y":363},{"p":"CRs: 2146_2149","t":"x","x":2.125,"y":283},{"p":"CRs: 2146_2149","t":"x","x":2.25,"y":325},{"p":"CRs: 2146_2149","t":"x","x":2.375,"y":249},{"p":"CRs: 2146_2149","t":"x","x":2.5,"y":295},{"p":"CRs: 2146_2149","t":"x","x":2.625,"y":223},{"p":"CRs: 2146_2149","t":"x","x":2.75,"y":263},
{"p":"CRs: 2146_2149","t":"g","x":0.57,"y":668},{"p":"CRs: 2146_2149","t":"g","x":1.25,"y":450},{"p":"CRs: 2146_2149","t":"g","x":1.7,"y":420},{"p":"CRs: 2146_2149","t":"g","x":2.35,"y":215},{"p":"CRs: 2146_2149","t":"g","x":2.4,"y":210},{"p":"CRs: 2146_2149","t":"g","x":2.7,"y":240},{"p":"CRs: 2146_2149","t":"g","x":3.3,"y":250},
{"p":"CRs: 2150_2153","aa":15.51,"bb":-227.2,"cc":729.5},
{"p":"CRs: 2150_2153","t":"r","x":0,"y":729.5},{"p":"CRs: 2150_2153","t":"r","x":0.5,"y":619.8},{"p":"CRs: 2150_2153","t":"r","x":1,"y":517.8},{"p":"CRs: 2150_2153","t":"r","x":1.5,"y":423.6},{"p":"CRs: 2150_2153","t":"r","x":2,"y":337.1},{"p":"CRs: 2150_2153","t":"r","x":2.5,"y":258.4},{"p":"CRs: 2150_2153","t":"r","x":3,"y":187.5},{"p":"CRs: 2150_2153","t":"r","x":3.5,"y":124.3},{"p":"CRs: 2150_2153","t":"r","x":3.9,"y":79.3},
{"p":"CRs: 2150_2153","t":"b","x":0,"y":840},{"p":"CRs: 2150_2153","t":"b","x":0.5,"y":674.3},{"p":"CRs: 2150_2153","t":"b","x":1,"y":534},{"p":"CRs: 2150_2153","t":"b","x":1.5,"y":419.3},{"p":"CRs: 2150_2153","t":"b","x":2,"y":330},{"p":"CRs: 2150_2153","t":"b","x":2.5,"y":266.3},{"p":"CRs: 2150_2153","t":"b","x":3,"y":228},{"p":"CRs: 2150_2153","t":"b","x":3.5,"y":215.3},{"p":"CRs: 2150_2153","t":"b","x":3.9,"y":223.4},
{"p":"CRs: 2150_2153","t":"x","x":1,"y":548},{"p":"CRs: 2150_2153","t":"x","x":1.125,"y":464},{"p":"CRs: 2150_2153","t":"x","x":1.25,"y":500},{"p":"CRs: 2150_2153","t":"x","x":1.375,"y":417},{"p":"CRs: 2150_2153","t":"x","x":1.5,"y":454},{"p":"CRs: 2150_2153","t":"x","x":1.625,"y":371},{"p":"CRs: 2150_2153","t":"x","x":1.75,"y":409},{"p":"CRs: 2150_2153","t":"x","x":1.875,"y":328},{"p":"CRs: 2150_2153","t":"x","x":2,"y":367},{"p":"CRs: 2150_2153","t":"x","x":2.125,"y":287},{"p":"CRs: 2150_2153","t":"x","x":2.25,"y":327},{"p":"CRs: 2150_2153","t":"x","x":2.375,"y":247},{"p":"CRs: 2150_2153","t":"x","x":2.5,"y":288},{"p":"CRs: 2150_2153","t":"x","x":2.625,"y":215},
{"p":"CRs: 2150_2153","t":"x","x":1,"y":488},{"p":"CRs: 2150_2153","t":"x","x":1.125,"y":524},{"p":"CRs: 2150_2153","t":"x","x":1.25,"y":440},{"p":"CRs: 2150_2153","t":"x","x":1.375,"y":476},{"p":"CRs: 2150_2153","t":"x","x":1.5,"y":394},{"p":"CRs: 2150_2153","t":"x","x":1.625,"y":431},{"p":"CRs: 2150_2153","t":"x","x":1.75,"y":349},{"p":"CRs: 2150_2153","t":"x","x":1.875,"y":388},{"p":"CRs: 2150_2153","t":"x","x":2,"y":307},{"p":"CRs: 2150_2153","t":"x","x":2.125,"y":347},{"p":"CRs: 2150_2153","t":"x","x":2.25,"y":267},{"p":"CRs: 2150_2153","t":"x","x":2.375,"y":307},{"p":"CRs: 2150_2153","t":"x","x":2.5,"y":228},{"p":"CRs: 2150_2153","t":"x","x":2.625,"y":265},
{"p":"CRs: 2150_2153","t":"g","x":0.95,"y":500},{"p":"CRs: 2150_2153","t":"g","x":1.05,"y":490},{"p":"CRs: 2150_2153","t":"g","x":1.6,"y":410},{"p":"CRs: 2150_2153","t":"g","x":2,"y":340},{"p":"CRs: 2150_2153","t":"g","x":2.4,"y":225},{"p":"CRs: 2150_2153","t":"g","x":2.5,"y":215},
{"p":"CRs: 2154_2157","aa":25.29,"bb":-257.7,"cc":749.6},
{"p":"CRs: 2154_2157","t":"r","x":0,"y":749.6},{"p":"CRs: 2154_2157","t":"r","x":0.5,"y":627.1},{"p":"CRs: 2154_2157","t":"r","x":1,"y":517.2},{"p":"CRs: 2154_2157","t":"r","x":1.5,"y":420},{"p":"CRs: 2154_2157","t":"r","x":2,"y":335.4},{"p":"CRs: 2154_2157","t":"r","x":2.5,"y":263.4},{"p":"CRs: 2154_2157","t":"r","x":3,"y":204.1},{"p":"CRs: 2154_2157","t":"r","x":3.5,"y":157.5},{"p":"CRs: 2154_2157","t":"r","x":3.9,"y":129.3},
{"p":"CRs: 2154_2157","t":"b","x":0,"y":790},{"p":"CRs: 2154_2157","t":"b","x":0.5,"y":642.7},{"p":"CRs: 2154_2157","t":"b","x":1,"y":516.7},{"p":"CRs: 2154_2157","t":"b","x":1.5,"y":412.1},{"p":"CRs: 2154_2157","t":"b","x":2,"y":328.8},{"p":"CRs: 2154_2157","t":"b","x":2.5,"y":266.9},{"p":"CRs: 2154_2157","t":"b","x":3,"y":226.3},{"p":"CRs: 2154_2157","t":"b","x":3.5,"y":207.1},{"p":"CRs: 2154_2157","t":"b","x":3.9,"y":207.1},
{"p":"CRs: 2154_2157","t":"x","x":0.625,"y":628},{"p":"CRs: 2154_2157","t":"x","x":0.75,"y":541},{"p":"CRs: 2154_2157","t":"x","x":0.875,"y":574},{"p":"CRs: 2154_2157","t":"x","x":1,"y":487},{"p":"CRs: 2154_2157","t":"x","x":1.125,"y":522},{"p":"CRs: 2154_2157","t":"x","x":1.25,"y":437},{"p":"CRs: 2154_2157","t":"x","x":1.375,"y":473},{"p":"CRs: 2154_2157","t":"x","x":1.5,"y":390},{"p":"CRs: 2154_2157","t":"x","x":1.625,"y":428},{"p":"CRs: 2154_2157","t":"x","x":1.75,"y":346},{"p":"CRs: 2154_2157","t":"x","x":1.875,"y":385},{"p":"CRs: 2154_2157","t":"x","x":2,"y":305},{"p":"CRs: 2154_2157","t":"x","x":2.125,"y":346},{"p":"CRs: 2154_2157","t":"x","x":2.25,"y":268},{"p":"CRs: 2154_2157","t":"x","x":2.375,"y":290},
{"p":"CRs: 2154_2157","t":"x","x":0.625,"y":568},{"p":"CRs: 2154_2157","t":"x","x":0.75,"y":601},{"p":"CRs: 2154_2157","t":"x","x":0.875,"y":513},{"p":"CRs: 2154_2157","t":"x","x":1,"y":547},{"p":"CRs: 2154_2157","t":"x","x":1.125,"y":462},{"p":"CRs: 2154_2157","t":"x","x":1.25,"y":497},{"p":"CRs: 2154_2157","t":"x","x":1.375,"y":413},{"p":"CRs: 2154_2157","t":"x","x":1.5,"y":450},{"p":"CRs: 2154_2157","t":"x","x":1.625,"y":368},{"p":"CRs: 2154_2157","t":"x","x":1.75,"y":406},{"p":"CRs: 2154_2157","t":"x","x":1.875,"y":325},{"p":"CRs: 2154_2157","t":"x","x":2,"y":365},{"p":"CRs: 2154_2157","t":"x","x":2.125,"y":286},{"p":"CRs: 2154_2157","t":"x","x":2.25,"y":328},{"p":"CRs: 2154_2157","t":"x","x":2.375,"y":270},
{"p":"CRs: 2154_2157","t":"g","x":0.65,"y":590},{"p":"CRs: 2154_2157","t":"g","x":0.75,"y":580},{"p":"CRs: 2154_2157","t":"g","x":1.8,"y":350},{"p":"CRs: 2154_2157","t":"g","x":2.2,"y":280},{"p":"CRs: 2154_2157","t":"g","x":2.3,"y":240},{"p":"CRs: 2154_2157","t":"g","x":2.35,"y":250},
{"p":"CRs: 2158_2161","aa":46.83,"bb":-325.1,"cc":801.8},
{"p":"CRs: 2158_2161","t":"r","x":0,"y":801.8},{"p":"CRs: 2158_2161","t":"r","x":0.5,"y":651},{"p":"CRs: 2158_2161","t":"r","x":1,"y":523.5},{"p":"CRs: 2158_2161","t":"r","x":1.5,"y":419.5},{"p":"CRs: 2158_2161","t":"r","x":2,"y":338.9},{"p":"CRs: 2158_2161","t":"r","x":2.5,"y":281.7},{"p":"CRs: 2158_2161","t":"r","x":3,"y":248},{"p":"CRs: 2158_2161","t":"r","x":3.5,"y":237.6},{"p":"CRs: 2158_2161","t":"r","x":3.9,"y":246.2},
{"p":"CRs: 2158_2161","t":"b","x":0,"y":800},{"p":"CRs: 2158_2161","t":"b","x":0.5,"y":653.8},{"p":"CRs: 2158_2161","t":"b","x":1,"y":528.2},{"p":"CRs: 2158_2161","t":"b","x":1.5,"y":423.2},{"p":"CRs: 2158_2161","t":"b","x":2,"y":338.8},{"p":"CRs: 2158_2161","t":"b","x":2.5,"y":275},{"p":"CRs: 2158_2161","t":"b","x":3,"y":231.8},{"p":"CRs: 2158_2161","t":"b","x":3.5,"y":209.2},{"p":"CRs: 2158_2161","t":"b","x":3.9,"y":206},
{"p":"CRs: 2158_2161","t":"x","x":0.45,"y":670},{"p":"CRs: 2158_2161","t":"x","x":0.55,"y":640},{"p":"CRs: 2158_2161","t":"x","x":0.625,"y":647},{"p":"CRs: 2158_2161","t":"x","x":0.75,"y":554},{"p":"CRs: 2158_2161","t":"x","x":0.875,"y":583},{"p":"CRs: 2158_2161","t":"x","x":1,"y":494},{"p":"CRs: 2158_2161","t":"x","x":1.125,"y":525},{"p":"CRs: 2158_2161","t":"x","x":1.25,"y":439},{"p":"CRs: 2158_2161","t":"x","x":1.375,"y":473},{"p":"CRs: 2158_2161","t":"x","x":1.5,"y":390},{"p":"CRs: 2158_2161","t":"x","x":1.625,"y":427},{"p":"CRs: 2158_2161","t":"x","x":1.75,"y":346},{"p":"CRs: 2158_2161","t":"x","x":1.875,"y":387},{"p":"CRs: 2158_2161","t":"x","x":2,"y":309},{"p":"CRs: 2158_2161","t":"x","x":2.125,"y":347},{"p":"CRs: 2158_2161","t":"x","x":2.25,"y":292},{"p":"CRs: 2158_2161","t":"x","x":2.6,"y":250},
{"p":"CRs: 2158_2161","t":"x","x":0.625,"y":587},{"p":"CRs: 2158_2161","t":"x","x":0.75,"y":614},{"p":"CRs: 2158_2161","t":"x","x":0.875,"y":523},{"p":"CRs: 2158_2161","t":"x","x":1,"y":553},{"p":"CRs: 2158_2161","t":"x","x":1.125,"y":465},{"p":"CRs: 2158_2161","t":"x","x":1.25,"y":499},{"p":"CRs: 2158_2161","t":"x","x":1.375,"y":413},{"p":"CRs: 2158_2161","t":"x","x":1.5,"y":449},{"p":"CRs: 2158_2161","t":"x","x":1.625,"y":367},{"p":"CRs: 2158_2161","t":"x","x":1.75,"y":406},{"p":"CRs: 2158_2161","t":"x","x":1.875,"y":327},{"p":"CRs: 2158_2161","t":"x","x":2,"y":369},{"p":"CRs: 2158_2161","t":"x","x":2.125,"y":297},{"p":"CRs: 2158_2161","t":"x","x":2.25,"y":322},
{"p":"CRs: 2158_2161","t":"g","x":0.07,"y":802},{"p":"CRs: 2158_2161","t":"g","x":0.5,"y":695},{"p":"CRs: 2158_2161","t":"g","x":1.5,"y":440},{"p":"CRs: 2158_2161","t":"g","x":2,"y":360},{"p":"CRs: 2158_2161","t":"g","x":2.6,"y":222},
{"p":"CRs: 2162_2165","aa":46.45,"bb":-331.4,"cc":812.4},
{"p":"CRs: 2162_2165","t":"r","x":0,"y":812.4},{"p":"CRs: 2162_2165","t":"r","x":0.5,"y":658.3},{"p":"CRs: 2162_2165","t":"r","x":1,"y":527.5},{"p":"CRs: 2162_2165","t":"r","x":1.5,"y":419.8},{"p":"CRs: 2162_2165","t":"r","x":2,"y":335.4},{"p":"CRs: 2162_2165","t":"r","x":2.5,"y":274.2},{"p":"CRs: 2162_2165","t":"r","x":3,"y":236.3},{"p":"CRs: 2162_2165","t":"r","x":3.5,"y":221.5},{"p":"CRs: 2162_2165","t":"r","x":3.9,"y":226.4},
{"p":"CRs: 2162_2165","t":"b","x":0,"y":825},{"p":"CRs: 2162_2165","t":"b","x":0.5,"y":659.6},{"p":"CRs: 2162_2165","t":"b","x":1,"y":520.5},{"p":"CRs: 2162_2165","t":"b","x":1.5,"y":407.6},{"p":"CRs: 2162_2165","t":"b","x":2,"y":321},{"p":"CRs: 2162_2165","t":"b","x":2.5,"y":260.6},{"p":"CRs: 2162_2165","t":"b","x":3,"y":226.5},{"p":"CRs: 2162_2165","t":"b","x":3.5,"y":218.6},{"p":"CRs: 2162_2165","t":"b","x":3.9,"y":231.2},
{"p":"CRs: 2162_2165","t":"x","x":0.4,"y":660},{"p":"CRs: 2162_2165","t":"x","x":0.625,"y":653},{"p":"CRs: 2162_2165","t":"x","x":0.75,"y":560},{"p":"CRs: 2162_2165","t":"x","x":0.875,"y":588},{"p":"CRs: 2162_2165","t":"x","x":1,"y":498},{"p":"CRs: 2162_2165","t":"x","x":1.125,"y":528},{"p":"CRs: 2162_2165","t":"x","x":1.25,"y":441},{"p":"CRs: 2162_2165","t":"x","x":1.375,"y":475},{"p":"CRs: 2162_2165","t":"x","x":1.5,"y":390},{"p":"CRs: 2162_2165","t":"x","x":1.625,"y":427},{"p":"CRs: 2162_2165","t":"x","x":1.75,"y":345},{"p":"CRs: 2162_2165","t":"x","x":1.875,"y":384},{"p":"CRs: 2162_2165","t":"x","x":2,"y":305},{"p":"CRs: 2162_2165","t":"x","x":2.125,"y":348},{"p":"CRs: 2162_2165","t":"x","x":2.25,"y":272},{"p":"CRs: 2162_2165","t":"x","x":2.375,"y":317},{"p":"CRs: 2162_2165","t":"x","x":2.5,"y":244},{"p":"CRs: 2162_2165","t":"x","x":2.95,"y":215},{"p":"CRs: 2162_2165","t":"x","x":3.05,"y":215},
{"p":"CRs: 2162_2165","t":"x","x":0.625,"y":593},{"p":"CRs: 2162_2165","t":"x","x":0.75,"y":620},{"p":"CRs: 2162_2165","t":"x","x":0.875,"y":528},{"p":"CRs: 2162_2165","t":"x","x":1,"y":557},{"p":"CRs: 2162_2165","t":"x","x":1.125,"y":468},{"p":"CRs: 2162_2165","t":"x","x":1.25,"y":501},{"p":"CRs: 2162_2165","t":"x","x":1.375,"y":415},{"p":"CRs: 2162_2165","t":"x","x":1.5,"y":450},{"p":"CRs: 2162_2165","t":"x","x":1.625,"y":367},{"p":"CRs: 2162_2165","t":"x","x":1.75,"y":405},{"p":"CRs: 2162_2165","t":"x","x":1.875,"y":324},{"p":"CRs: 2162_2165","t":"x","x":2,"y":365},{"p":"CRs: 2162_2165","t":"x","x":2.125,"y":288},{"p":"CRs: 2162_2165","t":"x","x":2.25,"y":332},{"p":"CRs: 2162_2165","t":"x","x":2.375,"y":257},{"p":"CRs: 2162_2165","t":"x","x":2.5,"y":304},
{"p":"CRs: 2162_2165","t":"g","x":0.45,"y":700},{"p":"CRs: 2162_2165","t":"g","x":0.55,"y":680},{"p":"CRs: 2162_2165","t":"g","x":2.35,"y":228},{"p":"CRs: 2162_2165","t":"g","x":2.45,"y":225},{"p":"CRs: 2162_2165","t":"g","x":3,"y":228},{"p":"CRs: 2162_2165","t":"g","x":3.1,"y":230},
{"p":"CRs: 2166_2169","aa":42.84,"bb":-312.6,"cc":793.2},
{"p":"CRs: 2166_2169","t":"r","x":0,"y":793.2},{"p":"CRs: 2166_2169","t":"r","x":0.5,"y":647.6},{"p":"CRs: 2166_2169","t":"r","x":1,"y":523.4},{"p":"CRs: 2166_2169","t":"r","x":1.5,"y":420.7},{"p":"CRs: 2166_2169","t":"r","x":2,"y":339.4},{"p":"CRs: 2166_2169","t":"r","x":2.5,"y":279.5},{"p":"CRs: 2166_2169","t":"r","x":3,"y":241},{"p":"CRs: 2166_2169","t":"r","x":3.5,"y":223.9},{"p":"CRs: 2166_2169","t":"r","x":3.9,"y":225.7},
{"p":"CRs: 2166_2169","t":"b","x":0,"y":785},{"p":"CRs: 2166_2169","t":"b","x":0.5,"y":636.1},{"p":"CRs: 2166_2169","t":"b","x":1,"y":509.5},{"p":"CRs: 2166_2169","t":"b","x":1.5,"y":405.1},{"p":"CRs: 2166_2169","t":"b","x":2,"y":323},{"p":"CRs: 2166_2169","t":"b","x":2.5,"y":263.1},{"p":"CRs: 2166_2169","t":"b","x":3,"y":225.5},{"p":"CRs: 2166_2169","t":"b","x":3.5,"y":210.1},{"p":"CRs: 2166_2169","t":"b","x":3.9,"y":213.8},
{"p":"CRs: 2166_2169","t":"x","x":0.5,"y":650},{"p":"CRs: 2166_2169","t":"x","x":0.55,"y":635},{"p":"CRs: 2166_2169","t":"x","x":0.75,"y":613},{"p":"CRs: 2166_2169","t":"x","x":0.875,"y":522},{"p":"CRs: 2166_2169","t":"x","x":1,"y":553},{"p":"CRs: 2166_2169","t":"x","x":1.125,"y":466},{"p":"CRs: 2166_2169","t":"x","x":1.25,"y":499},{"p":"CRs: 2166_2169","t":"x","x":1.375,"y":414},{"p":"CRs: 2166_2169","t":"x","x":1.5,"y":451},{"p":"CRs: 2166_2169","t":"x","x":1.625,"y":368},{"p":"CRs: 2166_2169","t":"x","x":1.75,"y":407},{"p":"CRs: 2166_2169","t":"x","x":1.875,"y":328},{"p":"CRs: 2166_2169","t":"x","x":2,"y":369},{"p":"CRs: 2166_2169","t":"x","x":2.125,"y":292},{"p":"CRs: 2166_2169","t":"x","x":2.25,"y":337},{"p":"CRs: 2166_2169","t":"x","x":2.375,"y":262},{"p":"CRs: 2166_2169","t":"x","x":2.5,"y":295},{"p":"CRs: 2166_2169","t":"x","x":2.6,"y":245},
{"p":"CRs: 2166_2169","t":"x","x":0.75,"y":553},{"p":"CRs: 2166_2169","t":"x","x":0.875,"y":583},{"p":"CRs: 2166_2169","t":"x","x":1,"y":493},{"p":"CRs: 2166_2169","t":"x","x":1.125,"y":526},{"p":"CRs: 2166_2169","t":"x","x":1.25,"y":439},{"p":"CRs: 2166_2169","t":"x","x":1.375,"y":474},{"p":"CRs: 2166_2169","t":"x","x":1.5,"y":391},{"p":"CRs: 2166_2169","t":"x","x":1.625,"y":428},{"p":"CRs: 2166_2169","t":"x","x":1.75,"y":347},{"p":"CRs: 2166_2169","t":"x","x":1.875,"y":388},{"p":"CRs: 2166_2169","t":"x","x":2,"y":309},{"p":"CRs: 2166_2169","t":"x","x":2.125,"y":353},{"p":"CRs: 2166_2169","t":"x","x":2.25,"y":277},{"p":"CRs: 2166_2169","t":"x","x":2.375,"y":323},{"p":"CRs: 2166_2169","t":"x","x":2.5,"y":264},
{"p":"CRs: 2166_2169","t":"g","x":0.45,"y":705},{"p":"CRs: 2166_2169","t":"g","x":0.5,"y":695},{"p":"CRs: 2166_2169","t":"g","x":0.55,"y":680},{"p":"CRs: 2166_2169","t":"g","x":1.5,"y":440},{"p":"CRs: 2166_2169","t":"g","x":2.25,"y":250},{"p":"CRs: 2166_2169","t":"g","x":2.35,"y":230},{"p":"CRs: 2166_2169","t":"g","x":2.6,"y":232},
{"p":"CRs: 2170_2173","aa":59.23,"bb":-362.0,"cc":828.4},
{"p":"CRs: 2170_2173","t":"r","x":0,"y":828.4},{"p":"CRs: 2170_2173","t":"r","x":0.5,"y":662.2},{"p":"CRs: 2170_2173","t":"r","x":1,"y":525.6},{"p":"CRs: 2170_2173","t":"r","x":1.5,"y":418.7},{"p":"CRs: 2170_2173","t":"r","x":2,"y":341.3},{"p":"CRs: 2170_2173","t":"r","x":2.5,"y":293.6},{"p":"CRs: 2170_2173","t":"r","x":3,"y":275.5},{"p":"CRs: 2170_2173","t":"r","x":3.5,"y":287},{"p":"CRs: 2170_2173","t":"r","x":3.9,"y":317.5},
{"p":"CRs: 2170_2173","t":"b","x":0,"y":807},{"p":"CRs: 2170_2173","t":"b","x":0.5,"y":658.7},{"p":"CRs: 2170_2173","t":"b","x":1,"y":531.5},{"p":"CRs: 2170_2173","t":"b","x":1.5,"y":425.6},{"p":"CRs: 2170_2173","t":"b","x":2,"y":340.8},{"p":"CRs: 2170_2173","t":"b","x":2.5,"y":277.3},{"p":"CRs: 2170_2173","t":"b","x":3,"y":234.9},{"p":"CRs: 2170_2173","t":"b","x":3.5,"y":213.8},{"p":"CRs: 2170_2173","t":"b","x":3.9,"y":212.1},
{"p":"CRs: 2170_2173","t":"x","x":0.25,"y":730},{"p":"CRs: 2170_2173","t":"x","x":0.625,"y":655},{"p":"CRs: 2170_2173","t":"x","x":0.75,"y":560},{"p":"CRs: 2170_2173","t":"x","x":0.875,"y":587},{"p":"CRs: 2170_2173","t":"x","x":1,"y":496},{"p":"CRs: 2170_2173","t":"x","x":1.125,"y":526},{"p":"CRs: 2170_2173","t":"x","x":1.25,"y":439},{"p":"CRs: 2170_2173","t":"x","x":1.375,"y":473},{"p":"CRs: 2170_2173","t":"x","x":1.5,"y":389},{"p":"CRs: 2170_2173","t":"x","x":1.625,"y":427},{"p":"CRs: 2170_2173","t":"x","x":1.75,"y":346},{"p":"CRs: 2170_2173","t":"x","x":1.875,"y":388},{"p":"CRs: 2170_2173","t":"x","x":2,"y":311},{"p":"CRs: 2170_2173","t":"x","x":2.125,"y":357},{"p":"CRs: 2170_2173","t":"x","x":2.25,"y":294},
{"p":"CRs: 2170_2173","t":"x","x":0.625,"y":595},{"p":"CRs: 2170_2173","t":"x","x":0.75,"y":620},{"p":"CRs: 2170_2173","t":"x","x":0.875,"y":527},{"p":"CRs: 2170_2173","t":"x","x":1,"y":556},{"p":"CRs: 2170_2173","t":"x","x":1.125,"y":466},{"p":"CRs: 2170_2173","t":"x","x":1.25,"y":498},{"p":"CRs: 2170_2173","t":"x","x":1.375,"y":413},{"p":"CRs: 2170_2173","t":"x","x":1.5,"y":449},{"p":"CRs: 2170_2173","t":"x","x":1.625,"y":366},{"p":"CRs: 2170_2173","t":"x","x":1.75,"y":406},{"p":"CRs: 2170_2173","t":"x","x":1.875,"y":328},{"p":"CRs: 2170_2173","t":"x","x":2,"y":371},{"p":"CRs: 2170_2173","t":"x","x":2.125,"y":297},{"p":"CRs: 2170_2173","t":"x","x":2.25,"y":334},
{"p":"CRs: 2170_2173","t":"g","x":0.25,"y":800},{"p":"CRs: 2170_2173","t":"g","x":0.6,"y":600},{"p":"CRs: 2170_2173","t":"g","x":0.7,"y":560},{"p":"CRs: 2170_2173","t":"g","x":1.4,"y":440},{"p":"CRs: 2170_2173","t":"g","x":2.2,"y":262},{"p":"CRs: 2170_2173","t":"g","x":2.3,"y":290}
]},
"columns":4,
"bounds":"flush",
"spacing":{"row":150,"column":201},
"resolve":{"axis":{"x":"independent","y":"independent"}},
"facet":{"field":"p","type":"nominal","title":null,"header":{"labelFont":"DejaVu Sans","labelFontSize":33,"labelFontWeight":"normal","labelColor":"black","labelPadding":2}},
"spec":{
"width":493,"height":366,
"layer":[
{"transform":[{"filter":"datum.t === 'g'"}],
 "mark":{"type":"point","shape":"diamond","filled":false,"stroke":"#3ee23a","strokeWidth":3,"size":850,"clip":true},
 "encoding":{
  "x":{"field":"x","type":"quantitative","scale":{"domain":[0,4],"nice":false,"zero":false},
   "axis":{"orient":"bottom","values":[0,0.25,0.5,0.75,1,1.25,1.5,1.75,2,2.25,2.5,2.75,3,3.25,3.5,3.75,4],"format":"d","labelExpr":"datum.value % 1 === 0 ? datum.label : ''","tickSize":{"condition":{"test":"datum.value % 1 === 0","value":-13},"value":-7},"labelPadding":28,"labelFlush":false,"labelOverlap":false,"zindex":2}},
  "y":{"field":"y","type":"quantitative","scale":{"domain":[200,1000],"nice":false,"zero":false},
   "axis":{"orient":"left","values":[200,250,300,350,400,450,500,550,600,650,700,750,800,850,900,950,1000],"format":"d","labelExpr":"datum.value % 200 === 0 ? datum.label : ''","tickSize":{"condition":{"test":"datum.value % 200 === 0","value":-13},"value":-7},"labelPadding":27,"labelFlush":false,"labelOverlap":false,"minExtent":97,"maxExtent":97,"zindex":2}}
 }},
{"transform":[{"filter":"datum.t === 'x'"}],
 "mark":{"type":"point","shape":"M-1,-1L1,1M-1,1L1,-1","filled":false,"stroke":"#f03a2c","strokeWidth":6,"size":1000,"clip":true},
 "encoding":{
  "x":{"field":"x","type":"quantitative",
   "axis":{"orient":"top","values":[0,0.25,0.5,0.75,1,1.25,1.5,1.75,2,2.25,2.5,2.75,3,3.25,3.5,3.75,4],"labels":false,"tickSize":{"condition":{"test":"datum.value % 1 === 0","value":-13},"value":-7},"zindex":2}},
  "y":{"field":"y","type":"quantitative",
   "axis":{"orient":"right","values":[200,250,300,350,400,450,500,550,600,650,700,750,800,850,900,950,1000],"labels":false,"tickSize":{"condition":{"test":"datum.value % 200 === 0","value":-13},"value":-7},"zindex":2}}
 }},
{"transform":[{"filter":"datum.t === 'r'"}],
 "mark":{"type":"line","color":"#f03a2c","strokeWidth":2.5,"interpolate":"natural","clip":true},
 "encoding":{"x":{"field":"x","type":"quantitative","axis":null},"y":{"field":"y","type":"quantitative","axis":null}}},
{"transform":[{"filter":"datum.t === 'b'"}],
 "mark":{"type":"line","color":"#5a50f0","strokeWidth":2.5,"interpolate":"natural","clip":true},
 "encoding":{"x":{"field":"x","type":"quantitative","axis":null},"y":{"field":"y","type":"quantitative","axis":null}}},
{"transform":[{"filter":"isValid(datum.aa)"}],
 "mark":{"type":"point","shape":"diamond","filled":false,"stroke":"#3ee23a","strokeWidth":3,"size":850},
 "encoding":{"x":{"datum":1.485,"type":"quantitative","axis":null},"y":{"datum":840,"type":"quantitative","axis":null}}},
{"transform":[{"filter":"isValid(datum.aa)"}],
 "mark":{"type":"point","shape":"M-1,-1L1,1M-1,1L1,-1","filled":false,"stroke":"#f03a2c","strokeWidth":4,"size":1000},
 "encoding":{"x":{"datum":1.485,"type":"quantitative","axis":null},"y":{"datum":738,"type":"quantitative","axis":null}}},
{"transform":[{"filter":"isValid(datum.aa)"}],
 "mark":{"type":"text","text":"WS","align":"left","baseline":"middle","font":"Liberation Sans","fontWeight":"bold","fontSize":21,"color":"black"},
 "encoding":{"x":{"datum":1.67,"type":"quantitative","axis":null},"y":{"datum":843,"type":"quantitative","axis":null}}},
{"transform":[{"filter":"isValid(datum.aa)"}],
 "mark":{"type":"text","text":"fitted","align":"left","baseline":"middle","font":"Liberation Sans","fontWeight":"bold","fontSize":21,"color":"black"},
 "encoding":{"x":{"datum":1.67,"type":"quantitative","axis":null},"y":{"datum":746,"type":"quantitative","axis":null}}},
{"transform":[{"filter":"isValid(datum.aa)"}],
 "mark":{"type":"text","text":"aa:","align":"left","baseline":"middle","font":"Liberation Sans","fontSize":29,"color":"black"},
 "encoding":{"x":{"datum":2.48,"type":"quantitative","axis":null},"y":{"datum":917,"type":"quantitative","axis":null}}},
{"transform":[{"filter":"isValid(datum.aa)"}],
 "mark":{"type":"text","text":"bb:","align":"left","baseline":"middle","font":"Liberation Sans","fontSize":29,"color":"black"},
 "encoding":{"x":{"datum":2.48,"type":"quantitative","axis":null},"y":{"datum":808,"type":"quantitative","axis":null}}},
{"transform":[{"filter":"isValid(datum.aa)"}],
 "mark":{"type":"text","text":"cc:","align":"left","baseline":"middle","font":"Liberation Sans","fontSize":29,"color":"black"},
 "encoding":{"x":{"datum":2.48,"type":"quantitative","axis":null},"y":{"datum":698,"type":"quantitative","axis":null}}},
{"transform":[{"filter":"isValid(datum.aa)"}],
 "mark":{"type":"text","align":"right","baseline":"middle","font":"DejaVu Sans","fontSize":29,"color":"black"},
 "encoding":{"text":{"field":"aa","type":"quantitative","format":".2f"},"x":{"datum":3.8,"type":"quantitative","axis":null},"y":{"datum":917,"type":"quantitative","axis":null}}},
{"transform":[{"filter":"isValid(datum.aa)"}],
 "mark":{"type":"text","align":"right","baseline":"middle","font":"DejaVu Sans","fontSize":29,"color":"black"},
 "encoding":{"text":{"field":"bb","type":"quantitative","format":".1f"},"x":{"datum":3.83,"type":"quantitative","axis":null},"y":{"datum":808,"type":"quantitative","axis":null}}},
{"transform":[{"filter":"isValid(datum.aa)"}],
 "mark":{"type":"text","align":"right","baseline":"middle","font":"DejaVu Sans","fontSize":29,"color":"black"},
 "encoding":{"text":{"field":"cc","type":"quantitative","format":".1f"},"x":{"datum":3.8,"type":"quantitative","axis":null},"y":{"datum":698,"type":"quantitative","axis":null}}}
]},
"config":{
 "font":"DejaVu Sans",
 "view":{"stroke":"black","strokeWidth":2.5},
 "header":{"labelFontWeight":"normal"},
 "axis":{"labelFont":"Liberation Sans","labelFontSize":27,"labelColor":"black","tickColor":"black","tickWidth":2,"domain":false,"grid":false,"title":null}
}
}
